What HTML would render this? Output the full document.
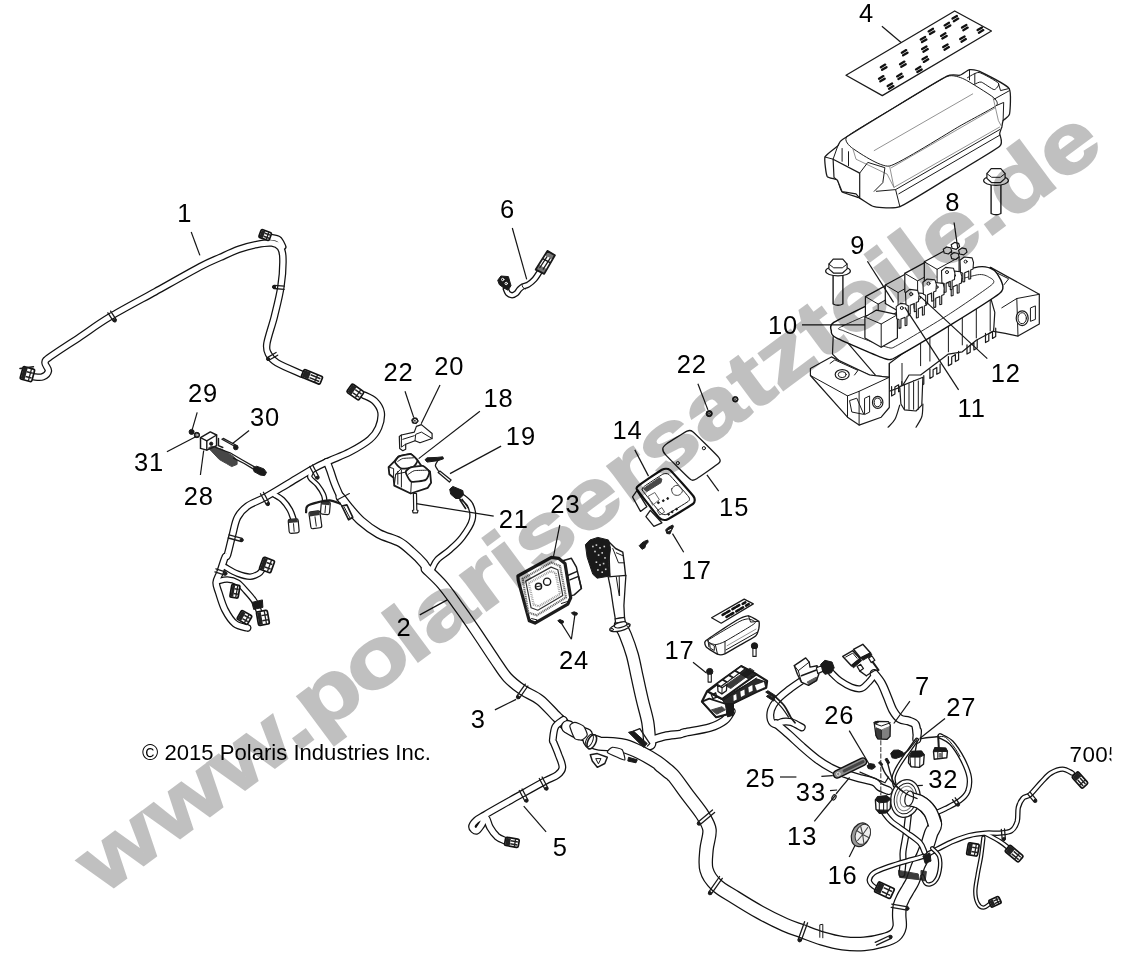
<!DOCTYPE html>
<html><head><meta charset="utf-8"><title>Polaris wiring harness diagram</title>
<style>html,body{margin:0;padding:0;background:#fff}svg{display:block}text{font-family:"Liberation Sans",Arial,sans-serif}.l{font-size:25.5px;fill:#000;letter-spacing:0.9px}.t{fill:none;stroke-linecap:round;stroke-linejoin:round}.k{stroke:#111}.w{stroke:#fff}.s{fill:#fff;stroke:#1a1a1a;stroke-width:1.2;stroke-linejoin:round;stroke-linecap:round}.n{fill:none;stroke:#1a1a1a;stroke-width:1;stroke-linejoin:round;stroke-linecap:round}.g{fill:none;stroke:#777;stroke-width:0.8;stroke-linejoin:round;stroke-linecap:round}.d{fill:#1a1a1a;stroke:#1a1a1a;stroke-width:1;stroke-linejoin:round}.ld{stroke:#151515;stroke-width:1.2;fill:none}</style></head><body>
<svg width="1121" height="953" viewBox="0 0 1121 953">
<rect width="1121" height="953" fill="#fff"/>
<g class="t">
<path class="k" d="M33.4 376.8C34.9 376.8 40.2 377.8 42.7 376.8C45.2 375.8 48.0 373.2 48.4 370.8C48.8 368.5 44.8 365.2 45.0 362.8C45.3 360.5 44.2 361.2 50.1 356.8C55.9 352.5 70.1 343.5 80.1 336.8C90.1 330.1 97.6 324.3 110.1 316.8C122.6 309.3 140.1 300.1 155.2 291.8C170.2 283.4 189.4 272.5 200.2 266.7C211.0 261.0 213.8 260.3 220.2 257.4C226.6 254.5 232.5 251.6 238.6 249.4C244.7 247.2 251.4 245.4 256.9 244.4C262.5 243.3 268.0 242.5 271.9 243.0C275.8 243.5 278.4 244.8 280.3 247.4C282.1 249.9 282.8 251.8 282.9 258.4C283.1 265.0 282.4 277.0 280.9 286.8C279.5 296.5 276.6 307.3 274.3 316.8C271.9 326.2 267.9 337.2 266.9 343.5C266.0 349.7 266.9 350.9 268.6 354.2C270.3 357.4 271.4 359.5 276.9 362.8C282.5 366.2 297.8 372.3 302.0 374.2" stroke-width="7.6"/>
<path class="k" d="M270.9 237.4C272.2 237.7 276.6 237.8 278.6 239.4C280.6 240.9 282.2 245.5 282.9 246.7" stroke-width="7.2"/>
<path class="w" d="M33.4 376.8C34.9 376.8 40.2 377.8 42.7 376.8C45.2 375.8 48.0 373.2 48.4 370.8C48.8 368.5 44.8 365.2 45.0 362.8C45.3 360.5 44.2 361.2 50.1 356.8C55.9 352.5 70.1 343.5 80.1 336.8C90.1 330.1 97.6 324.3 110.1 316.8C122.6 309.3 140.1 300.1 155.2 291.8C170.2 283.4 189.4 272.5 200.2 266.7C211.0 261.0 213.8 260.3 220.2 257.4C226.6 254.5 232.5 251.6 238.6 249.4C244.7 247.2 251.4 245.4 256.9 244.4C262.5 243.3 268.0 242.5 271.9 243.0C275.8 243.5 278.4 244.8 280.3 247.4C282.1 249.9 282.8 251.8 282.9 258.4C283.1 265.0 282.4 277.0 280.9 286.8C279.5 296.5 276.6 307.3 274.3 316.8C271.9 326.2 267.9 337.2 266.9 343.5C266.0 349.7 266.9 350.9 268.6 354.2C270.3 357.4 271.4 359.5 276.9 362.8C282.5 366.2 297.8 372.3 302.0 374.2" stroke-width="5.1"/>
<path class="w" d="M270.9 237.4C272.2 237.7 276.6 237.8 278.6 239.4C280.6 240.9 282.2 245.5 282.9 246.7" stroke-width="4.7"/>
</g>
<g class="t">
<path class="k" d="M311.9 471.1C311.6 472.2 309.0 475.1 309.9 477.4C310.8 479.7 315.1 482.0 317.4 484.9C319.7 487.8 322.4 491.9 323.6 494.9C324.9 497.9 324.7 501.5 324.9 502.9" stroke-width="5.6"/>
<path class="k" d="M274.9 494.9C276.2 495.7 279.9 497.4 282.4 499.9C284.9 502.4 288.0 506.5 289.9 509.9C291.8 513.2 293.0 518.2 293.7 519.8" stroke-width="6.6"/>
<path class="k" d="M225.0 567.0C227.1 568.1 233.3 572.1 237.5 573.7C241.6 575.3 246.4 576.7 250.0 576.7C253.5 576.7 256.6 574.9 258.7 573.7C260.8 572.5 261.8 570.2 262.4 569.5" stroke-width="6.6"/>
<path class="k" d="M218.0 581.2C219.6 580.9 224.2 579.3 227.5 579.5C230.7 579.7 234.3 580.5 237.5 582.5C240.6 584.4 243.4 588.1 246.2 591.2C249.0 594.3 252.2 597.7 254.4 601.2C256.7 604.7 258.6 610.6 259.4 612.4" stroke-width="6.6"/>
<path class="k" d="M461.0 496.1C462.5 497.6 468.4 500.9 470.2 504.9C472.1 508.8 473.6 514.4 472.2 519.8C470.9 525.3 466.0 532.3 462.2 537.3C458.5 542.3 453.9 546.1 449.8 549.8C445.6 553.6 440.2 556.7 437.3 559.8C434.3 562.9 433.1 567.1 432.3 568.5" stroke-width="7"/>
<path class="k" d="M363.6 395.0C365.5 396.0 371.9 398.3 374.8 401.2C377.7 404.1 380.4 408.1 381.1 412.4C381.7 416.8 380.4 422.9 378.6 427.4C376.7 431.9 374.6 435.3 369.8 439.4C365.0 443.5 356.5 448.4 349.9 451.9C343.2 455.4 336.1 457.8 329.9 460.6C323.6 463.5 319.5 465.2 312.4 469.1C305.3 473.1 295.3 479.4 287.4 484.1C279.5 488.8 271.6 493.7 264.9 497.4C258.3 501.0 252.0 502.8 247.5 506.1C242.9 509.4 240.0 512.6 237.5 517.3C235.0 522.1 234.1 528.6 232.5 534.8C230.8 541.1 228.7 551.0 227.5 554.8C226.2 558.6 226.2 554.5 225.0 557.5C223.7 560.4 221.4 568.3 220.0 572.5C218.5 576.6 216.4 579.1 216.2 582.5C216.0 585.8 217.3 587.9 218.7 592.4C220.2 597.0 222.3 604.7 225.0 609.9C227.7 615.1 231.2 620.7 235.0 623.7C238.7 626.7 245.4 627.2 247.5 627.9" stroke-width="7.8"/>
<path class="k" d="M326.9 461.9C327.5 463.4 329.1 467.6 330.4 471.1C331.6 474.6 332.7 478.6 334.4 482.9C336.0 487.2 339.4 494.5 340.4 496.9" stroke-width="8.2"/>
<path class="k" d="M340.4 496.9C341.7 498.6 345.1 503.3 348.6 507.4C352.1 511.4 356.1 516.7 361.1 521.1C366.1 525.5 372.3 530.2 378.6 533.6C384.8 537.0 393.1 538.7 398.6 541.6C404.0 544.5 406.9 547.4 411.0 551.1C415.2 554.7 421.0 560.6 423.5 563.5C426.1 566.5 425.8 567.9 426.2 568.7" stroke-width="9.8"/>
<path class="k" d="M426.2 568.7C428.9 571.4 437.3 578.9 442.5 585.0C447.7 591.0 452.0 597.5 457.4 605.0C462.9 612.4 468.7 620.8 474.9 629.9C481.2 639.1 489.5 652.0 494.9 659.9C500.3 667.8 502.8 672.4 507.4 677.4C512.0 682.4 517.0 686.1 522.4 689.9C527.8 693.6 534.0 695.3 539.9 699.9C545.7 704.4 552.3 712.6 557.3 717.3C562.3 722.1 567.7 726.7 569.8 728.6" stroke-width="11.4"/>
<path class="w" d="M311.9 471.1C311.6 472.2 309.0 475.1 309.9 477.4C310.8 479.7 315.1 482.0 317.4 484.9C319.7 487.8 322.4 491.9 323.6 494.9C324.9 497.9 324.7 501.5 324.9 502.9" stroke-width="3.1"/>
<path class="w" d="M274.9 494.9C276.2 495.7 279.9 497.4 282.4 499.9C284.9 502.4 288.0 506.5 289.9 509.9C291.8 513.2 293.0 518.2 293.7 519.8" stroke-width="4.1"/>
<path class="w" d="M225.0 567.0C227.1 568.1 233.3 572.1 237.5 573.7C241.6 575.3 246.4 576.7 250.0 576.7C253.5 576.7 256.6 574.9 258.7 573.7C260.8 572.5 261.8 570.2 262.4 569.5" stroke-width="4.1"/>
<path class="w" d="M218.0 581.2C219.6 580.9 224.2 579.3 227.5 579.5C230.7 579.7 234.3 580.5 237.5 582.5C240.6 584.4 243.4 588.1 246.2 591.2C249.0 594.3 252.2 597.7 254.4 601.2C256.7 604.7 258.6 610.6 259.4 612.4" stroke-width="4.1"/>
<path class="w" d="M461.0 496.1C462.5 497.6 468.4 500.9 470.2 504.9C472.1 508.8 473.6 514.4 472.2 519.8C470.9 525.3 466.0 532.3 462.2 537.3C458.5 542.3 453.9 546.1 449.8 549.8C445.6 553.6 440.2 556.7 437.3 559.8C434.3 562.9 433.1 567.1 432.3 568.5" stroke-width="4.5"/>
<path class="w" d="M363.6 395.0C365.5 396.0 371.9 398.3 374.8 401.2C377.7 404.1 380.4 408.1 381.1 412.4C381.7 416.8 380.4 422.9 378.6 427.4C376.7 431.9 374.6 435.3 369.8 439.4C365.0 443.5 356.5 448.4 349.9 451.9C343.2 455.4 336.1 457.8 329.9 460.6C323.6 463.5 319.5 465.2 312.4 469.1C305.3 473.1 295.3 479.4 287.4 484.1C279.5 488.8 271.6 493.7 264.9 497.4C258.3 501.0 252.0 502.8 247.5 506.1C242.9 509.4 240.0 512.6 237.5 517.3C235.0 522.1 234.1 528.6 232.5 534.8C230.8 541.1 228.7 551.0 227.5 554.8C226.2 558.6 226.2 554.5 225.0 557.5C223.7 560.4 221.4 568.3 220.0 572.5C218.5 576.6 216.4 579.1 216.2 582.5C216.0 585.8 217.3 587.9 218.7 592.4C220.2 597.0 222.3 604.7 225.0 609.9C227.7 615.1 231.2 620.7 235.0 623.7C238.7 626.7 245.4 627.2 247.5 627.9" stroke-width="5.3"/>
<path class="w" d="M326.9 461.9C327.5 463.4 329.1 467.6 330.4 471.1C331.6 474.6 332.7 478.6 334.4 482.9C336.0 487.2 339.4 494.5 340.4 496.9" stroke-width="5.7"/>
<path class="w" d="M340.4 496.9C341.7 498.6 345.1 503.3 348.6 507.4C352.1 511.4 356.1 516.7 361.1 521.1C366.1 525.5 372.3 530.2 378.6 533.6C384.8 537.0 393.1 538.7 398.6 541.6C404.0 544.5 406.9 547.4 411.0 551.1C415.2 554.7 421.0 560.6 423.5 563.5C426.1 566.5 425.8 567.9 426.2 568.7" stroke-width="7.3"/>
<path class="w" d="M426.2 568.7C428.9 571.4 437.3 578.9 442.5 585.0C447.7 591.0 452.0 597.5 457.4 605.0C462.9 612.4 468.7 620.8 474.9 629.9C481.2 639.1 489.5 652.0 494.9 659.9C500.3 667.8 502.8 672.4 507.4 677.4C512.0 682.4 517.0 686.1 522.4 689.9C527.8 693.6 534.0 695.3 539.9 699.9C545.7 704.4 552.3 712.6 557.3 717.3C562.3 722.1 567.7 726.7 569.8 728.6" stroke-width="8.9"/>
</g>
<g class="t">
<path class="k" d="M563.6 719.8C562.2 721.0 557.1 723.5 555.3 726.8C553.6 730.2 553.1 737.2 552.8 739.8C552.6 742.4 552.7 739.9 553.6 742.5C554.6 745.0 557.2 750.8 558.6 755.0C560.1 759.1 562.6 764.1 562.4 767.4C562.2 770.8 560.3 772.7 557.4 774.9C554.5 777.2 550.7 778.1 544.9 781.2C539.1 784.3 529.5 789.7 522.4 793.7C515.3 797.6 508.7 801.4 502.4 804.9C496.2 808.4 489.3 812.3 485.0 814.9C480.6 817.5 478.4 818.4 476.2 820.4C474.0 822.4 471.9 825.1 472.0 826.9C472.0 828.6 474.9 831.2 476.5 830.9C478.0 830.6 479.9 827.1 481.5 824.9C483.0 822.7 484.5 817.5 486.0 817.9C487.4 818.3 488.1 824.3 490.0 827.4C491.8 830.5 494.4 834.1 496.9 836.4C499.5 838.6 504.0 840.1 505.4 840.9" stroke-width="7.8"/>
<path class="w" d="M563.6 719.8C562.2 721.0 557.1 723.5 555.3 726.8C553.6 730.2 553.1 737.2 552.8 739.8C552.6 742.4 552.7 739.9 553.6 742.5C554.6 745.0 557.2 750.8 558.6 755.0C560.1 759.1 562.6 764.1 562.4 767.4C562.2 770.8 560.3 772.7 557.4 774.9C554.5 777.2 550.7 778.1 544.9 781.2C539.1 784.3 529.5 789.7 522.4 793.7C515.3 797.6 508.7 801.4 502.4 804.9C496.2 808.4 489.3 812.3 485.0 814.9C480.6 817.5 478.4 818.4 476.2 820.4C474.0 822.4 471.9 825.1 472.0 826.9C472.0 828.6 474.9 831.2 476.5 830.9C478.0 830.6 479.9 827.1 481.5 824.9C483.0 822.7 484.5 817.5 486.0 817.9C487.4 818.3 488.1 824.3 490.0 827.4C491.8 830.5 494.4 834.1 496.9 836.4C499.5 838.6 504.0 840.1 505.4 840.9" stroke-width="5.3"/>
</g>
<g class="t">
<path class="k" d="M649.8 743.6C649.4 740.0 649.0 729.6 647.8 722.3C646.5 715.1 644.0 707.4 642.3 699.9C640.5 692.4 638.9 684.9 637.3 677.4C635.6 669.9 634.3 662.0 632.3 654.9C630.3 647.8 627.3 639.8 625.3 634.9C623.3 630.0 621.1 627.0 620.3 625.4" stroke-width="13.3"/>
<path class="k" d="M651.0 740.3C653.3 739.6 659.9 737.1 664.7 736.1C669.6 735.0 676.6 734.7 680.0 734.1C683.3 733.5 680.0 733.6 685.0 732.5C690.0 731.4 703.4 729.5 710.0 727.5C716.5 725.5 720.9 723.2 724.4 720.5C728.0 717.8 730.1 712.8 731.2 711.3" stroke-width="9"/>
<path class="w" d="M649.8 743.6C649.4 740.0 649.0 729.6 647.8 722.3C646.5 715.1 644.0 707.4 642.3 699.9C640.5 692.4 638.9 684.9 637.3 677.4C635.6 669.9 634.3 662.0 632.3 654.9C630.3 647.8 627.3 639.8 625.3 634.9C623.3 630.0 621.1 627.0 620.3 625.4" stroke-width="10.8"/>
<path class="w" d="M651.0 740.3C653.3 739.6 659.9 737.1 664.7 736.1C669.6 735.0 676.6 734.7 680.0 734.1C683.3 733.5 680.0 733.6 685.0 732.5C690.0 731.4 703.4 729.5 710.0 727.5C716.5 725.5 720.9 723.2 724.4 720.5C728.0 717.8 730.1 712.8 731.2 711.3" stroke-width="6.5"/>
</g>
<g class="t">
<path class="k" d="M567.8 726.8C569.0 727.5 571.8 729.5 574.8 730.8C577.9 732.2 584.2 734.2 586.1 734.8" stroke-width="13.8"/>
<path class="k" d="M589.8 740.3C591.5 740.9 596.1 742.9 599.8 743.6C603.5 744.2 608.1 743.9 612.3 744.3C616.5 744.7 620.2 744.7 624.8 746.1C629.4 747.4 634.3 749.6 639.8 752.3C645.2 755.0 651.8 758.6 657.2 762.3C662.7 766.0 671.8 774.3 672.2 774.8C672.7 775.2 660.0 764.9 660.0 765.0C660.0 765.0 667.9 769.9 672.5 774.9C677.1 779.9 682.5 788.3 687.5 794.9C692.5 801.6 698.8 809.1 702.5 814.9C706.1 820.7 708.8 824.1 709.5 829.9C710.1 835.7 707.0 843.2 706.5 849.9C706.0 856.5 704.8 864.0 706.5 869.8C708.1 875.7 711.4 880.3 716.2 884.8C720.9 889.4 727.6 892.7 734.9 897.3C742.2 901.9 751.6 907.7 759.9 912.3C768.2 916.9 777.8 921.6 784.9 924.8C792.0 928.0 796.1 929.0 802.4 931.3C808.6 933.6 815.6 936.5 822.3 938.5C829.1 940.5 835.8 942.3 842.8 943.2C849.8 944.1 857.5 944.4 864.2 943.9C871.0 943.4 878.4 941.8 883.5 940.3C888.6 938.9 892.2 937.6 894.9 935.3C897.6 933.1 898.9 930.4 899.6 927.1C900.3 923.8 899.2 919.2 899.2 915.6C899.2 912.1 899.2 908.8 899.9 905.7C900.6 902.6 902.1 899.9 903.5 897.1C904.9 894.2 906.9 891.3 908.5 888.5C910.0 885.8 911.1 884.5 912.8 880.7C914.4 876.9 916.5 869.8 918.2 865.7C919.9 861.7 921.3 859.9 922.9 856.4C924.4 852.9 926.1 848.7 927.5 844.8C928.9 840.9 930.0 836.6 931.2 833.1C932.5 829.7 935.2 827.8 934.9 824.2C934.7 820.5 932.4 815.0 929.9 811.3C927.4 807.6 923.6 804.1 919.9 802.1C916.3 800.0 909.8 799.3 907.8 798.8" stroke-width="14.6"/>
<path class="w" d="M567.8 726.8C569.0 727.5 571.8 729.5 574.8 730.8C577.9 732.2 584.2 734.2 586.1 734.8" stroke-width="11.3"/>
<path class="w" d="M589.8 740.3C591.5 740.9 596.1 742.9 599.8 743.6C603.5 744.2 608.1 743.9 612.3 744.3C616.5 744.7 620.2 744.7 624.8 746.1C629.4 747.4 634.3 749.6 639.8 752.3C645.2 755.0 651.8 758.6 657.2 762.3C662.7 766.0 671.8 774.3 672.2 774.8C672.7 775.2 660.0 764.9 660.0 765.0C660.0 765.0 667.9 769.9 672.5 774.9C677.1 779.9 682.5 788.3 687.5 794.9C692.5 801.6 698.8 809.1 702.5 814.9C706.1 820.7 708.8 824.1 709.5 829.9C710.1 835.7 707.0 843.2 706.5 849.9C706.0 856.5 704.8 864.0 706.5 869.8C708.1 875.7 711.4 880.3 716.2 884.8C720.9 889.4 727.6 892.7 734.9 897.3C742.2 901.9 751.6 907.7 759.9 912.3C768.2 916.9 777.8 921.6 784.9 924.8C792.0 928.0 796.1 929.0 802.4 931.3C808.6 933.6 815.6 936.5 822.3 938.5C829.1 940.5 835.8 942.3 842.8 943.2C849.8 944.1 857.5 944.4 864.2 943.9C871.0 943.4 878.4 941.8 883.5 940.3C888.6 938.9 892.2 937.6 894.9 935.3C897.6 933.1 898.9 930.4 899.6 927.1C900.3 923.8 899.2 919.2 899.2 915.6C899.2 912.1 899.2 908.8 899.9 905.7C900.6 902.6 902.1 899.9 903.5 897.1C904.9 894.2 906.9 891.3 908.5 888.5C910.0 885.8 911.1 884.5 912.8 880.7C914.4 876.9 916.5 869.8 918.2 865.7C919.9 861.7 921.3 859.9 922.9 856.4C924.4 852.9 926.1 848.7 927.5 844.8C928.9 840.9 930.0 836.6 931.2 833.1C932.5 829.7 935.2 827.8 934.9 824.2C934.7 820.5 932.4 815.0 929.9 811.3C927.4 807.6 923.6 804.1 919.9 802.1C916.3 800.0 909.8 799.3 907.8 798.8" stroke-width="12.1"/>
</g>
<g class="t">
<path class="k" d="M908.5 814.2C908.1 817.3 907.2 826.6 906.3 832.8C905.4 839.0 903.6 846.6 903.1 851.3C902.5 856.0 903.3 857.3 903.1 861.1C902.9 864.8 902.1 871.7 901.9 873.9" stroke-width="7"/>
<path class="w" d="M908.5 814.2C908.1 817.3 907.2 826.6 906.3 832.8C905.4 839.0 903.6 846.6 903.1 851.3C902.5 856.0 903.3 857.3 903.1 861.1C902.9 864.8 902.1 871.7 901.9 873.9" stroke-width="4.5"/>
</g>
<g class="t">
<path class="k" d="M802.8 680.0C800.4 681.6 792.8 686.6 788.5 690.0C784.3 693.3 780.0 696.6 777.1 700.0C774.2 703.3 772.2 706.6 771.1 709.9C770.1 713.3 770.1 717.5 770.8 719.9C771.6 722.4 773.7 724.2 775.7 724.5C777.7 724.8 780.2 722.0 782.8 721.7C785.5 721.3 788.3 721.3 791.4 722.2C794.5 723.2 800.0 726.5 801.7 727.4" stroke-width="8"/>
<path class="k" d="M776.0 723.5C778.1 725.3 784.1 730.2 788.5 734.2C793.0 738.2 798.1 743.2 802.8 747.3C807.6 751.5 812.3 755.7 817.1 759.2C821.9 762.7 826.6 765.7 831.4 768.2C836.1 770.6 840.9 772.2 845.6 773.9C850.4 775.6 855.2 776.8 859.9 778.2C864.7 779.5 870.9 780.5 874.2 782.0C877.5 783.5 877.5 785.7 879.9 787.1C882.3 788.5 887.1 790.1 888.5 790.7" stroke-width="8.8"/>
<path class="k" d="M831.4 672.8C832.8 674.1 836.6 678.3 839.9 680.7C843.3 683.1 847.8 685.8 851.4 687.1C854.9 688.4 858.5 689.3 861.3 688.5C864.2 687.8 866.5 684.4 868.5 682.5C870.4 680.6 872.3 678.0 873.0 677.1" stroke-width="7.2"/>
<path class="k" d="M874.2 673.6C875.4 675.1 879.2 679.4 881.3 683.1C883.5 686.8 885.1 691.5 887.0 696.0C888.9 700.4 890.6 706.1 892.7 709.9C894.9 713.8 897.3 717.0 899.9 718.8C902.5 720.6 905.9 720.0 908.4 720.9C911.0 721.9 913.9 722.3 915.3 724.5C916.7 726.7 916.7 733.2 917.0 734.2C917.4 735.2 917.4 729.8 917.4 730.7C917.3 731.5 916.9 737.8 916.8 739.3" stroke-width="9.2"/>
<path class="w" d="M802.8 680.0C800.4 681.6 792.8 686.6 788.5 690.0C784.3 693.3 780.0 696.6 777.1 700.0C774.2 703.3 772.2 706.6 771.1 709.9C770.1 713.3 770.1 717.5 770.8 719.9C771.6 722.4 773.7 724.2 775.7 724.5C777.7 724.8 780.2 722.0 782.8 721.7C785.5 721.3 788.3 721.3 791.4 722.2C794.5 723.2 800.0 726.5 801.7 727.4" stroke-width="5.5"/>
<path class="w" d="M776.0 723.5C778.1 725.3 784.1 730.2 788.5 734.2C793.0 738.2 798.1 743.2 802.8 747.3C807.6 751.5 812.3 755.7 817.1 759.2C821.9 762.7 826.6 765.7 831.4 768.2C836.1 770.6 840.9 772.2 845.6 773.9C850.4 775.6 855.2 776.8 859.9 778.2C864.7 779.5 870.9 780.5 874.2 782.0C877.5 783.5 877.5 785.7 879.9 787.1C882.3 788.5 887.1 790.1 888.5 790.7" stroke-width="6.3"/>
<path class="w" d="M831.4 672.8C832.8 674.1 836.6 678.3 839.9 680.7C843.3 683.1 847.8 685.8 851.4 687.1C854.9 688.4 858.5 689.3 861.3 688.5C864.2 687.8 866.5 684.4 868.5 682.5C870.4 680.6 872.3 678.0 873.0 677.1" stroke-width="4.7"/>
<path class="w" d="M874.2 673.6C875.4 675.1 879.2 679.4 881.3 683.1C883.5 686.8 885.1 691.5 887.0 696.0C888.9 700.4 890.6 706.1 892.7 709.9C894.9 713.8 897.3 717.0 899.9 718.8C902.5 720.6 905.9 720.0 908.4 720.9C911.0 721.9 913.9 722.3 915.3 724.5C916.7 726.7 916.7 733.2 917.0 734.2C917.4 735.2 917.4 729.8 917.4 730.7C917.3 731.5 916.9 737.8 916.8 739.3" stroke-width="6.7"/>
</g>
<g class="t">
<path class="k" d="M916.8 739.7C915.4 741.6 911.5 747.1 908.5 751.4C905.5 755.7 901.3 761.4 898.8 765.7C896.3 769.9 894.4 773.7 893.7 777.1C893.0 780.4 894.6 784.2 894.8 785.6" stroke-width="4.3"/>
<path class="k" d="M940.2 736.0C942.1 737.1 947.6 738.8 951.4 742.8C955.1 746.8 959.8 754.2 962.8 759.9C965.7 765.7 968.4 771.8 969.2 777.1C970.0 782.3 969.3 787.4 967.8 791.4C966.2 795.3 963.6 797.8 959.9 800.6C956.2 803.5 949.7 806.4 945.6 808.5C941.6 810.5 937.3 812.3 935.6 813.0" stroke-width="5.6"/>
<path class="w" d="M916.8 739.7C915.4 741.6 911.5 747.1 908.5 751.4C905.5 755.7 901.3 761.4 898.8 765.7C896.3 769.9 894.4 773.7 893.7 777.1C893.0 780.4 894.6 784.2 894.8 785.6" stroke-width="1.8"/>
<path class="w" d="M940.2 736.0C942.1 737.1 947.6 738.8 951.4 742.8C955.1 746.8 959.8 754.2 962.8 759.9C965.7 765.7 968.4 771.8 969.2 777.1C970.0 782.3 969.3 787.4 967.8 791.4C966.2 795.3 963.6 797.8 959.9 800.6C956.2 803.5 949.7 806.4 945.6 808.5C941.6 810.5 937.3 812.3 935.6 813.0" stroke-width="3.1"/>
</g>
<g class="t">
<path class="k" d="M983.4 837.8C983.0 840.9 982.0 850.2 981.1 856.4C980.1 862.6 978.5 869.2 977.6 875.0C976.6 880.9 975.3 886.7 975.3 891.3C975.3 896.0 976.2 900.3 977.6 903.0C978.9 905.7 981.3 907.6 983.4 907.6C985.5 907.7 989.2 904.1 990.4 903.4" stroke-width="4.4"/>
<path class="k" d="M985.7 833.6C988.1 834.9 995.8 838.8 999.7 841.3C1003.6 843.7 1007.5 847.1 1009.0 848.3" stroke-width="5"/>
<path class="k" d="M877.5 889.0C876.5 888.3 873.0 886.4 871.6 884.8C870.3 883.3 868.9 881.7 869.3 879.7C869.7 877.7 870.9 874.8 874.0 872.7C877.1 870.6 882.5 868.8 887.9 866.9C893.4 865.0 900.7 862.8 906.6 861.1C912.4 859.3 917.8 858.4 922.9 856.4C927.9 854.5 931.8 852.0 936.8 849.4C941.9 846.9 947.7 843.6 953.1 841.3C958.6 839.0 964.0 836.8 969.4 835.5C974.9 834.1 980.7 833.5 985.7 833.1C990.8 832.7 995.4 833.5 999.7 833.1C1004.0 832.7 1008.4 832.7 1011.3 830.8C1014.2 828.9 1016.0 825.4 1017.2 821.5C1018.3 817.6 1017.4 811.4 1018.3 807.5C1019.3 803.6 1021.0 800.3 1023.0 798.2C1024.9 796.1 1026.9 797.4 1030.0 794.7C1033.1 792.0 1038.1 785.5 1041.6 781.9C1045.1 778.3 1047.4 775.2 1050.9 773.1C1054.4 770.9 1059.0 769.1 1062.6 769.1C1066.1 769.1 1070.7 772.4 1072.3 773.1" stroke-width="5.4"/>
<path class="w" d="M983.4 837.8C983.0 840.9 982.0 850.2 981.1 856.4C980.1 862.6 978.5 869.2 977.6 875.0C976.6 880.9 975.3 886.7 975.3 891.3C975.3 896.0 976.2 900.3 977.6 903.0C978.9 905.7 981.3 907.6 983.4 907.6C985.5 907.7 989.2 904.1 990.4 903.4" stroke-width="1.9"/>
<path class="w" d="M985.7 833.6C988.1 834.9 995.8 838.8 999.7 841.3C1003.6 843.7 1007.5 847.1 1009.0 848.3" stroke-width="2.5"/>
<path class="w" d="M877.5 889.0C876.5 888.3 873.0 886.4 871.6 884.8C870.3 883.3 868.9 881.7 869.3 879.7C869.7 877.7 870.9 874.8 874.0 872.7C877.1 870.6 882.5 868.8 887.9 866.9C893.4 865.0 900.7 862.8 906.6 861.1C912.4 859.3 917.8 858.4 922.9 856.4C927.9 854.5 931.8 852.0 936.8 849.4C941.9 846.9 947.7 843.6 953.1 841.3C958.6 839.0 964.0 836.8 969.4 835.5C974.9 834.1 980.7 833.5 985.7 833.1C990.8 832.7 995.4 833.5 999.7 833.1C1004.0 832.7 1008.4 832.7 1011.3 830.8C1014.2 828.9 1016.0 825.4 1017.2 821.5C1018.3 817.6 1017.4 811.4 1018.3 807.5C1019.3 803.6 1021.0 800.3 1023.0 798.2C1024.9 796.1 1026.9 797.4 1030.0 794.7C1033.1 792.0 1038.1 785.5 1041.6 781.9C1045.1 778.3 1047.4 775.2 1050.9 773.1C1054.4 770.9 1059.0 769.1 1062.6 769.1C1066.1 769.1 1070.7 772.4 1072.3 773.1" stroke-width="2.9"/>
</g>
<g class="t">
<path class="k" d="M883.5 812.1C884.8 813.6 887.4 817.9 891.4 821.4C895.3 824.8 902.3 829.2 907.1 832.8C911.8 836.3 917.0 839.6 919.9 842.8C922.8 846.0 923.7 850.5 924.5 852.0" stroke-width="6"/>
<path class="w" d="M883.5 812.1C884.8 813.6 887.4 817.9 891.4 821.4C895.3 824.8 902.3 829.2 907.1 832.8C911.8 836.3 917.0 839.6 919.9 842.8C922.8 846.0 923.7 850.5 924.5 852.0" stroke-width="3.5"/>
</g>
<g class="t">
<path class="k" d="M932.2 848.3C933.3 849.6 937.9 852.7 939.2 856.4C940.4 860.1 940.4 866.1 939.6 870.4C938.9 874.7 936.7 879.8 934.5 882.0C932.3 884.3 928.4 884.9 926.4 883.9C924.3 882.9 923.1 877.5 922.4 876.2" stroke-width="4.5"/>
<path class="w" d="M932.2 848.3C933.3 849.6 937.9 852.7 939.2 856.4C940.4 860.1 940.4 866.1 939.6 870.4C938.9 874.7 936.7 879.8 934.5 882.0C932.3 884.3 928.4 884.9 926.4 883.9C924.3 882.9 923.1 877.5 922.4 876.2" stroke-width="2"/>
</g>
<path class="s" d="M846.0 75.2L954.7 11.0L991.5 31.0L882.3 95.6Z" style="stroke-width:1.3"/>
<path class="n" d="M879.0 78.7l4.4 -2.6M880.3 81.3l4.4 -2.6M880.8 67.2l4.4 -2.6M882.1 69.8l4.4 -2.6M897.1 76.4l4.4 -2.6M898.4 79.0l4.4 -2.6M900.0 64.2l4.4 -2.6M901.3 66.8l4.4 -2.6M901.8 52.7l4.4 -2.6M903.1 55.3l4.4 -2.6M922.5 59.3l4.4 -2.6M923.8 61.9l4.4 -2.6M922.1 49.1l4.4 -2.6M923.4 51.7l4.4 -2.6M920.7 39.5l4.4 -2.6M922.0 42.1l4.4 -2.6M943.2 47.1l4.4 -2.6M944.5 49.7l4.4 -2.6M941.0 35.9l4.4 -2.6M942.3 38.5l4.4 -2.6M960.2 39.1l4.4 -2.6M961.5 41.7l4.4 -2.6M944.6 25.4l4.4 -2.6M945.9 28.0l4.4 -2.6M962.0 27.6l4.4 -2.6M963.3 30.2l4.4 -2.6M977.6 30.1l4.4 -2.6M978.9 32.7l4.4 -2.6M887.7 86.1l4.4 -2.6M889.0 88.7l4.4 -2.6M916.0 69.4l4.4 -2.6M917.3 72.0l4.4 -2.6M928.6 31.4l4.4 -2.6M929.9 34.0l4.4 -2.6M952.5 18.6l4.4 -2.6M953.8 21.2l4.4 -2.6" style="stroke-width:2.3;stroke:#111"/>
<path class="s" d="M825.0 157.0C825.9 154.5 836.4 147.3 837.8 145.9C839.3 144.4 837.7 142.7 842.5 139.5C847.4 136.2 886.9 112.0 895.6 106.7C904.3 101.4 941.7 78.7 947.0 76.1C952.4 73.5 958.0 75.8 959.9 75.2C961.7 74.7 967.9 70.0 969.5 69.7C971.1 69.3 976.3 69.8 979.6 71.4C982.9 73.0 1006.6 84.9 1009.1 88.5C1011.6 92.1 1010.0 111.5 1009.5 114.2C1009.0 116.9 1003.7 119.6 1003.1 120.6C1002.5 121.7 1002.1 126.0 1001.8 127.0C1001.5 128.1 999.9 131.9 999.7 133.5C999.5 135.1 1003.9 142.7 999.7 146.3C995.5 150.0 957.5 172.3 949.2 177.4C940.8 182.4 906.2 204.2 899.9 206.7C893.7 209.1 877.6 207.4 874.2 206.7C870.9 206.0 862.3 199.4 859.7 198.1C857.0 196.9 844.0 193.2 842.1 191.7C840.3 190.2 838.7 181.4 837.4 180.1C836.2 178.9 828.2 178.2 827.1 176.3C826.1 174.4 824.1 159.5 825.0 157.0Z" style="stroke-width:1.3"/>
<path class="n" d="M846.8 136.7C850.4 133.2 887.3 111.7 895.6 106.7C904.0 101.7 941.3 78.8 947.0 76.5C952.7 74.2 960.3 77.4 964.1 79.1C968.0 80.8 990.4 94.9 993.0 97.1C995.7 99.3 999.0 103.2 996.3 105.6C993.5 108.0 968.7 120.9 959.9 126.0C951.0 131.0 898.6 164.1 889.6 166.0C880.7 167.9 856.4 150.9 852.8 148.5C849.2 146.0 843.3 140.2 846.8 136.7Z"/>
<path class="g" d="M889.6 166.0L893.9 187.4L999.7 127.0"/>
<path class="g" d="M993.0 97.1L998.4 120.6L1001.8 127.0"/>
<path class="g" d="M852.8 148.5L856.0 159.2L887.1 174.1L893.9 187.4"/>
<path class="g" d="M874.2 150.6L972.7 93.9"/>
<path class="g" d="M891.4 167.7L995.2 107.8"/>
<path class="n" d="M895.6 189.6L999.7 129.6"/>
<path class="n" d="M898.8 193.8L999.7 135.2"/>
<path class="n" d="M876.4 191.3L895.6 189.6L899.9 206.7"/>
<path class="s" d="M833.1 159.2L859.7 173.1L859.7 198.1L856.0 193.8L842.1 191.7L837.4 180.1L834.0 177.4Z"/>
<path class="n" d="M825.0 157.0L833.1 159.2L837.8 145.9"/>
<path class="n" d="M859.7 173.1L867.8 162.4L884.9 167.7L882.8 182.7L874.2 191.3"/>
<path class="n" d="M842.1 148.5L842.1 161.3"/>
<path class="n" d="M848.5 151.7L848.5 165.6"/>
<path class="n" d="M967.4 77.8C968.5 77.3 976.0 71.9 979.1 72.5C982.2 73.0 996.9 81.4 998.4 83.2C999.9 84.9 995.8 89.7 994.1 89.6C992.4 89.5 983.2 82.6 981.3 82.1C979.3 81.5 975.5 84.0 974.8 84.2"/>
<path class="n" d="M969.5 69.7L969.5 79.9"/>
<path class="n" d="M974.8 73.5L974.8 84.2"/>
<path class="n" d="M994.1 99.2L1009.5 90.6"/>
<path class="n" d="M998.4 83.2L1000.5 90.6L1009.1 88.5"/>
<path class="n" d="M996.3 105.6L1003.7 102.4L1003.1 120.6"/>
<path class="s" d="M991.1 182.2L991.1 213.5Q996.0 216.0 1000.9 213.5L1000.9 182.2Z" style="stroke-width:1.4"/>
<ellipse class="s" cx="996.0" cy="180.6" rx="12.4" ry="4.8"/>
<path class="s" d="M986.9 173.6L991.2 168.7L1000.8 168.7L1005.1 173.6L1005.1 178.4L1000.3 182.7L991.7 182.7L986.9 178.4Z"/>
<path class="n" d="M986.9 173.6L991.7 177.3L1000.3 177.3L1005.1 173.6"/>
<path class="s" d="M833.1 272.7L833.1 304.0Q838.0 306.5 842.9 304.0L842.9 272.7Z" style="stroke-width:1.4"/>
<ellipse class="s" cx="838.0" cy="271.1" rx="12.4" ry="4.8"/>
<path class="s" d="M828.9 264.1L833.2 259.2L842.8 259.2L847.1 264.1L847.1 268.9L842.3 273.2L833.7 273.2L828.9 268.9Z"/>
<path class="n" d="M828.9 264.1L833.7 267.8L842.3 267.8L847.1 264.1"/>
<path class="s" d="M833.6 326.3L832.5 354.1L841.7 363.4L869.6 375.0L889.3 377.3L889.3 363.4L902.0 354.1L999.4 292.7L999.4 312.4L993.6 331.0L976.3 340.2L962.3 351.8L948.4 354.1L929.9 368.1L920.6 375.0L909.0 375.0L902.0 386.6L889.3 391.3Z"/>
<path class="n" d="M889.3 363.4L889.3 388.9"/>
<path class="n" d="M902.0 363.4L902.0 388.9"/>
<path class="n" d="M920.6 342.6L920.6 365.7"/>
<path class="n" d="M929.9 336.9L929.9 361.1"/>
<path class="n" d="M948.4 325.4L948.4 351.8"/>
<path class="n" d="M962.3 316.8L962.3 344.9"/>
<path class="n" d="M976.3 308.1L976.3 337.9"/>
<path class="n" d="M990.2 299.5L990.2 331.0"/>
<path class="s" d="M810.4 368.5L831.3 356.9L869.6 375.0L889.3 377.3L889.3 407.5L881.2 417.2L859.1 425.1L847.5 417.2L810.4 375.5Z"/>
<path class="n" d="M810.4 375.5L847.5 395.9L859.1 391.3L889.3 377.3"/>
<path class="n" d="M847.5 395.9L847.5 417.2"/>
<path class="n" d="M859.1 391.3L859.1 425.1"/>
<path class="n" d="M849.9 400.5L856.8 398.2L863.8 414.4L852.2 412.1Z"/>
<path class="n" d="M864.9 398.2L869.6 395.9L869.6 412.1L864.9 414.4Z"/>
<ellipse class="s" cx="877.7" cy="402.4" rx="5.2" ry="6"/>
<ellipse class="n" cx="877.7" cy="402.4" rx="3.5" ry="4.3"/>
<ellipse class="s" cx="842.2" cy="374.6" rx="7" ry="5"/>
<ellipse class="n" cx="842.2" cy="374.6" rx="4" ry="3"/>
<path class="n" d="M830.1 363.4L834.8 359.9L858.0 370.4L854.5 375.0"/>
<path class="s" d="M983.2 271.8L990.6 267.4L1039.3 294.3L1039.3 324.0L1018.0 336.1L1005.2 333.3L993.6 331.4L994.8 312.4Z"/>
<path class="n" d="M1001.8 307.8L1016.8 298.5L1039.3 294.3"/>
<path class="n" d="M1016.8 298.5L1018.0 336.1"/>
<ellipse class="s" cx="1022.2" cy="318.2" rx="6" ry="7.4"/>
<ellipse class="n" cx="1022.2" cy="318.2" rx="4.2" ry="5.5"/>
<path class="n" d="M1030.8 307.8L1035.4 305.9L1035.4 319.4L1030.8 321.2Z"/>
<path class="n" d="M990.6 267.4L997.1 273.0L1008.7 278.8L1004.1 284.6"/>
<path class="n" d="M891.6 386.6L891.6 395.9L894.9 394.0L894.9 387.1L898.6 384.8L898.6 391.7L901.8 389.9L901.8 381.5" style="stroke-width:1.2"/>
<path class="n" d="M913.6 380.8L913.6 390.1L916.9 388.2L916.9 381.3L920.6 379.0L920.6 385.9L923.8 384.1L923.8 375.7" style="stroke-width:1.2"/>
<path class="n" d="M929.9 369.2L929.9 378.5L933.1 376.6L933.1 369.7L936.8 367.4L936.8 374.3L940.1 372.5L940.1 364.1" style="stroke-width:1.2"/>
<path class="n" d="M948.4 356.5L948.4 365.7L951.7 363.9L951.7 356.9L955.4 354.6L955.4 361.6L958.6 359.7L958.6 351.4" style="stroke-width:1.2"/>
<path class="n" d="M967.0 344.9L967.0 354.1L970.2 352.3L970.2 345.3L973.9 343.0L973.9 350.0L977.2 348.1L977.2 339.8" style="stroke-width:1.2"/>
<path class="n" d="M985.5 333.3L985.5 342.6L988.8 340.7L988.8 333.7L992.5 331.4L992.5 338.4L995.7 336.5L995.7 328.2" style="stroke-width:1.2"/>
<path class="s" d="M899.7 386.6L922.9 377.3L921.8 405.2L916.0 411.0L904.4 409.8L900.9 404.0Z"/>
<path class="n" d="M904.4 385.2L904.4 409.3"/>
<path class="n" d="M909.0 383.8L909.0 409.3"/>
<path class="n" d="M913.6 382.4L913.6 409.3"/>
<path class="n" d="M918.3 381.0L918.3 409.3"/>
<path class="n" d="M899.7 405.2C898.9 407.5 897.0 415.4 895.1 419.1C893.2 422.8 889.3 425.8 888.1 427.2" style="stroke-width:1.2"/>
<path class="n" d="M922.9 404.0C922.7 406.1 922.9 412.9 921.8 416.8C920.6 420.6 916.9 425.5 916.0 427.2" style="stroke-width:1.2"/>
<path d="M834.8 324.0C838.4 321.6 860.1 310.8 869.6 306.6C879.1 302.4 919.0 286.0 929.9 282.3C940.8 278.5 972.3 269.8 978.6 268.8C984.9 267.8 990.8 270.4 992.9 271.8C995.1 273.2 999.4 280.7 999.9 282.7C1000.4 284.7 1003.4 287.9 998.3 292.0C993.1 296.1 958.5 317.8 948.4 324.0C938.3 330.2 903.7 350.9 897.4 354.1C891.1 357.4 891.8 358.7 885.8 356.9C879.8 355.1 842.4 338.7 837.1 336.1C831.8 333.4 833.4 331.7 833.2 330.5C832.9 329.3 831.1 326.4 834.8 324.0Z" fill="#fff" stroke="#111" stroke-width="5.2" stroke-linejoin="round"/>
<path d="M834.8 324.0C838.4 321.6 860.1 310.8 869.6 306.6C879.1 302.4 919.0 286.0 929.9 282.3C940.8 278.5 972.3 269.8 978.6 268.8C984.9 267.8 990.8 270.4 992.9 271.8C995.1 273.2 999.4 280.7 999.9 282.7C1000.4 284.7 1003.4 287.9 998.3 292.0C993.1 296.1 958.5 317.8 948.4 324.0C938.3 330.2 903.7 350.9 897.4 354.1C891.1 357.4 891.8 358.7 885.8 356.9C879.8 355.1 842.4 338.7 837.1 336.1C831.8 333.4 833.4 331.7 833.2 330.5C832.9 329.3 831.1 326.4 834.8 324.0Z" fill="#fff" stroke="#fff" stroke-width="2.4" stroke-linejoin="round"/>
<path class="n" d="M842.9 325.9C851.5 321.6 916.4 293.8 929.9 288.7C943.3 283.6 971.5 276.0 977.4 274.8C983.3 273.7 987.5 276.2 989.0 277.2C990.5 278.1 996.5 280.4 992.5 284.1C988.4 287.9 957.9 308.6 948.4 314.7C938.9 320.8 903.5 342.1 897.4 345.3C891.3 348.6 892.3 348.6 887.0 347.2C881.6 345.8 848.5 333.1 844.1 331.0C839.7 328.8 834.3 330.1 842.9 325.9Z" style="stroke-width:0.9"/>
<path class="s" d="M865.4 296.6L887.4 284.6L900.2 292.0L900.2 310.5L878.2 322.6L865.4 315.2Z"/>
<path class="n" d="M865.4 296.6L878.2 304.1L900.2 292.0"/>
<path class="n" d="M878.2 304.1L878.2 322.6"/>
<path class="s" d="M885.3 285.0L907.4 273.0L920.1 280.4L920.1 299.0L898.1 311.0L885.3 303.6Z"/>
<path class="n" d="M885.3 285.0L898.1 292.5L920.1 280.4"/>
<path class="n" d="M898.1 292.5L898.1 311.0"/>
<path class="s" d="M904.8 273.4L926.9 261.4L939.6 268.8L939.6 287.4L917.6 299.4L904.8 292.0Z"/>
<path class="n" d="M904.8 273.4L917.6 280.9L939.6 268.8"/>
<path class="n" d="M917.6 280.9L917.6 299.4"/>
<path class="s" d="M924.3 261.8L946.3 249.8L959.1 257.2L959.1 275.8L937.1 287.8L924.3 280.4Z"/>
<path class="n" d="M924.3 261.8L937.1 269.3L959.1 257.2"/>
<path class="n" d="M937.1 269.3L937.1 287.8"/>
<path class="s" d="M864.9 317.0L876.5 310.1L897.4 314.7L897.4 337.9L881.2 347.2L864.9 337.9Z"/>
<path class="n" d="M864.9 317.0L881.2 324.0L897.4 314.7"/>
<path class="n" d="M881.2 324.0L881.2 347.2"/>
<path class="s" d="M896.2 306.6L900.4 303.4L908.3 304.3L909.7 308.9L909.2 315.4L906.9 316.3L906.9 325.2L905.1 325.6L905.1 317.3L900.9 319.1L900.9 327.9L899.0 328.4L899.0 319.6L896.7 318.7Z" style="stroke-width:1.1"/>
<circle class="n" cx="901.8" cy="308.0" r="1.5"/>
<path class="s" d="M913.6 296.2L917.8 292.9L925.7 293.8L927.1 298.5L926.6 305.0L924.3 305.9L924.3 314.7L922.4 315.2L922.4 306.8L918.3 308.7L918.3 317.5L916.4 318.0L916.4 309.2L914.1 308.2Z" style="stroke-width:1.1"/>
<circle class="n" cx="919.2" cy="297.6" r="1.5"/>
<path class="s" d="M931.0 285.7L935.2 282.5L943.1 283.4L944.5 288.1L944.0 294.5L941.7 295.5L941.7 304.3L939.8 304.7L939.8 296.4L935.7 298.3L935.7 307.1L933.8 307.5L933.8 298.7L931.5 297.8Z" style="stroke-width:1.1"/>
<circle class="n" cx="936.6" cy="287.1" r="1.5"/>
<path class="s" d="M948.4 274.1L952.6 270.9L960.5 271.8L961.9 276.5L961.4 282.9L959.1 283.9L959.1 292.7L957.2 293.2L957.2 284.8L953.1 286.7L953.1 295.5L951.2 295.9L951.2 287.1L948.9 286.2Z" style="stroke-width:1.1"/>
<circle class="n" cx="954.0" cy="275.5" r="1.5"/>
<path class="s" d="M905.5 292.7L909.7 289.4L917.6 290.4L919.0 295.0L918.5 301.5L916.2 302.4L916.2 311.2L914.3 311.7L914.3 303.4L910.2 305.2L910.2 314.0L908.3 314.5L908.3 305.7L906.0 304.7Z" style="stroke-width:1.1"/>
<circle class="n" cx="911.1" cy="294.1" r="1.5"/>
<path class="s" d="M922.9 282.3L927.1 279.0L935.0 279.9L936.4 284.6L935.9 291.1L933.6 292.0L933.6 300.8L931.7 301.3L931.7 292.9L927.6 294.8L927.6 303.6L925.7 304.1L925.7 295.2L923.4 294.3Z" style="stroke-width:1.1"/>
<circle class="n" cx="928.5" cy="283.6" r="1.5"/>
<path class="s" d="M941.5 270.7L945.6 267.4L953.5 268.3L954.9 273.0L954.5 279.5L952.1 280.4L952.1 289.2L950.3 289.7L950.3 281.3L946.1 283.2L946.1 292.0L944.2 292.5L944.2 283.6L941.9 282.7Z" style="stroke-width:1.1"/>
<circle class="n" cx="947.0" cy="272.1" r="1.5"/>
<path class="s" d="M960.0 260.2L964.2 257.0L972.1 257.9L973.5 262.5L973.0 269.0L970.7 270.0L970.7 278.8L968.8 279.2L968.8 270.9L964.7 272.7L964.7 281.6L962.8 282.0L962.8 273.2L960.5 272.3Z" style="stroke-width:1.1"/>
<circle class="n" cx="965.6" cy="261.6" r="1.5"/>
<path class="s" d="M943.3 249.3L946.6 247.0L950.7 247.9L951.7 251.2L948.4 254.0L944.2 253.0Z" style="stroke-width:1.2"/>
<path class="s" d="M951.2 244.7L954.5 242.4L958.6 243.3L959.6 246.5L956.3 249.3L952.1 248.4Z" style="stroke-width:1.2"/>
<path class="s" d="M950.7 254.9L954.0 252.6L958.2 253.5L959.1 256.7L955.8 259.5L951.7 258.6Z" style="stroke-width:1.2"/>
<path class="s" d="M958.6 250.3L961.9 247.9L966.0 248.9L967.0 252.1L963.7 254.9L959.6 254.0Z" style="stroke-width:1.2"/>
<path class="s" d="M399.3 436.4L401.4 435.0L414.3 432.1L416.4 426.4L421.4 424.6L432.1 433.5L432.1 438.5L420.0 442.8L415.0 440.7L405.7 444.2L405.7 449.2L402.8 450.7L399.7 448.5Z"/>
<path class="n" d="M401.4 435.0L401.4 447.1L405.7 444.2"/>
<path class="n" d="M415.0 440.7L415.7 434.3L421.4 432.1L432.1 438.5"/>
<path class="n" d="M402.8 439.3L414.3 435.7"/>
<path class="d" d="M411.7 420.0L413.5 417.8L416.8 418.1L418.3 421.1L416.4 423.6L412.5 423.1Z"/>
<circle class="n" cx="415.0" cy="420.8" r="1.4" style="stroke:#fff;stroke-width:.8"/>
<path class="s" d="M388.6 467.1L394.3 461.4L398.6 456.4L410.7 454.0L417.4 459.9L420.7 464.9L430.0 471.4L431.1 482.8L427.8 487.8L410.7 493.5L394.3 485.6L393.6 477.8L389.3 474.2Z" style="stroke-width:1.8"/>
<path class="s" d="M395.0 462.1C394.8 460.9 397.7 457.2 399.3 456.4C400.8 455.6 408.9 453.8 410.7 454.2C412.5 454.7 417.2 459.4 417.4 460.7C417.6 461.9 414.7 466.3 413.1 467.1C411.5 467.9 403.2 469.0 401.4 468.5C399.6 468.0 395.2 463.3 395.0 462.1Z" style="stroke-width:1.8"/>
<path class="s" d="M405.7 472.1C405.6 470.7 409.0 468.0 410.7 467.4C412.4 466.8 421.0 465.5 422.8 465.9C424.7 466.4 429.0 470.7 429.2 472.1C429.5 473.5 427.5 479.0 425.7 479.9C423.9 480.9 413.4 482.4 411.4 481.6C409.4 480.9 405.8 473.5 405.7 472.1Z" style="stroke-width:1.8"/>
<path class="n" d="M397.8 461.4C398.3 461.1 401.3 458.9 402.8 458.5C404.4 458.2 412.5 457.9 413.5 457.8"/>
<path class="n" d="M408.5 474.2C409.1 473.9 412.5 471.1 414.3 470.7C416.0 470.3 425.2 470.3 426.4 470.2"/>
<path class="n" d="M394.3 485.6L395.7 474.2L401.4 468.5"/>
<path class="n" d="M410.7 493.5L411.4 481.6"/>
<path class="n" d="M395.7 474.2L405.7 472.1"/>
<path class="n" d="M397.8 471.4L397.8 484.2"/>
<path class="n" d="M401.4 469.9L401.4 487.1"/>
<path class="n" d="M388.6 467.1L393.6 468.5L393.6 477.8"/>
<path class="s" d="M413.4 493.5L416.5 493.5L416.8 509.9L418.0 510.6L417.4 512.8L413.1 512.8L412.5 510.6L413.7 509.9Z"/>
<path class="d" d="M425.0 459.7L427.1 457.8L437.1 457.4L442.8 456.8L443.5 458.8L437.8 460.7L427.1 462.1Z"/>
<path class="n" d="M437.8 460.7C437.5 461.3 435.2 464.1 435.4 465.7C435.6 467.2 438.7 471.2 439.2 472.1" style="stroke-width:1.3"/>
<path class="s" d="M438.2 472.5L439.9 471.1L451.1 479.9L449.4 482.1Z" style="stroke-width:1.3"/>
<path class="d" d="M449.7 489.2L452.8 486.4L462.8 490.6L463.5 494.9L459.9 498.5L455.6 498.5L450.7 494.2Z"/>
<path class="n" d="M459.9 499.9L465.6 508.5" style="stroke-width:1.6"/>
<path class="n" d="M462.1 499.2L468.5 508.5" style="stroke-width:1.2"/>
<path class="s" d="M562.8 560.7L571.4 558.3L576.4 567.1L581.4 588.5L574.2 594.9L567.1 597.1Z" style="stroke-width:1.5"/>
<path class="n" d="M567.1 575.7L577.1 571.4" style="stroke-width:1.5"/>
<path class="n" d="M569.9 579.9L578.5 576.4L581.4 588.5" style="stroke-width:1.5"/>
<path d="M517.9 576.0L551.4 557.4L558.5 558.3L565.0 563.5L570.7 597.8L567.8 604.2L535.0 623.1L529.3 620.8L518.3 580.7Z" fill="#fff" stroke="#1c1c1c" stroke-width="3.2" stroke-linejoin="round"/>
<path d="M522.6 578.8L551.4 562.5L560.0 566.0L566.0 597.4L536.8 615.3L528.3 612.5Z" fill="none" stroke="#666" stroke-width="2.2" stroke-dasharray="1.1 0.7" stroke-linejoin="round"/>
<path class="n" d="M525.7 581.1L551.1 567.1L557.8 569.7L562.8 595.6L537.8 610.2L531.1 607.8Z" style="stroke:#333;stroke-width:1.2"/>
<path d="M528.8 583.1L550.7 571.1L555.7 573.1L560.0 594.2L538.5 606.4L533.6 604.5Z" fill="none" stroke="#999" stroke-width="2.4" stroke-dasharray="0.9 0.9" stroke-linejoin="round"/>
<circle class="s" cx="538.5" cy="586.4" r="3.1" style="stroke-width:1.4"/>
<circle class="s" cx="547.1" cy="581.7" r="3.6" style="stroke-width:1.4"/>
<path class="n" d="M536.4 586.8L540.7 585.9"/>
<path class="n" d="M529.3 620.8L531.4 618.5L537.1 619.9L535.0 623.1"/>
<path class="n" d="M561.4 603.5L567.8 601.4L568.8 603.5"/>
<path class="d" d="M557.8 620.6L560.0 619.6L563.5 621.1L563.1 623.1L560.0 623.1Z"/>
<path class="d" d="M571.4 612.8L574.2 611.8L577.4 613.1L576.8 615.1L573.5 615.1Z"/>
<path class="s" d="M608.5 541.4L615.6 548.5L622.8 552.1L624.2 562.8L625.6 575.7L619.9 578.5L609.9 577.1Z" style="stroke-width:1.4"/>
<path class="n" d="M612.8 548.5L618.5 562.8L624.2 562.8"/>
<path class="n" d="M616.3 552.8L622.8 555.7"/>
<path class="d" d="M585.4 544.6L589.9 540.0L597.8 537.4L608.5 540.0L610.6 548.5L608.5 562.8L609.9 576.0L597.1 578.2L592.8 574.2L589.9 565.7L587.1 557.1Z"/>
<g fill="#fff" opacity=".8"><rect x="592.1" y="545.7" width="1.6" height="1.6"/><rect x="595.6" y="544.3" width="1.6" height="1.6"/><rect x="599.2" y="547.1" width="1.6" height="1.6"/><rect x="594.2" y="550.7" width="1.6" height="1.6"/><rect x="597.8" y="554.3" width="1.6" height="1.6"/><rect x="601.4" y="552.1" width="1.6" height="1.6"/><rect x="595.6" y="561.4" width="1.6" height="1.6"/><rect x="599.2" y="564.2" width="1.6" height="1.6"/><rect x="602.8" y="562.8" width="1.6" height="1.6"/><rect x="597.1" y="569.2" width="1.6" height="1.6"/><rect x="601.4" y="571.4" width="1.6" height="1.6"/><rect x="604.9" y="568.5" width="1.6" height="1.6"/><rect x="603.5" y="545.7" width="1.6" height="1.6"/><rect x="604.2" y="557.1" width="1.6" height="1.6"/></g>
<path class="s" d="M608.2 576.8L625.9 575.4L625.0 588.5L623.9 605.6L624.5 617.3L615.3 618.8L613.1 605.6L610.6 588.5Z" style="stroke-width:1.3"/>
<path class="n" d="M616.3 577.1L619.2 595.6"/>
<path class="n" d="M619.2 576.4L619.6 595.6"/>
<path class="s" d="M615.1 618.8L624.5 617.3L625.3 621.6L615.6 623.1Z" style="stroke-width:1.3"/>
<ellipse class="s" cx="619.9" cy="627.3" rx="10.6" ry="3.6" transform="rotate(-14 619.9 627.3)"/>
<ellipse class="s" cx="620.6" cy="624.9" rx="6.4" ry="2.6" transform="rotate(-14 620.6 624.9)"/>
<circle class="n" cx="612.1" cy="629.6" r="1.3"/>
<circle class="n" cx="628.2" cy="625.6" r="1.3"/>
<path class="d" d="M639.2 545.7L642.0 542.8L644.2 541.4L647.7 540.0L648.2 542.1L645.6 545.0L644.9 547.8L642.0 549.3Z"/>
<path class="s" d="M662.8 448.5C662.9 447.7 665.3 444.8 667.1 443.5C668.9 442.2 685.2 432.0 687.1 431.1C689.0 430.2 690.5 429.8 692.8 431.7C695.1 433.6 716.6 454.8 718.5 457.1C720.4 459.4 720.8 461.2 719.2 462.8C717.6 464.4 699.2 477.3 697.1 478.5C695.0 479.7 693.0 481.4 690.7 479.6C688.4 477.9 667.7 457.2 665.7 454.9C663.6 452.7 662.7 449.4 662.8 448.5Z" style="stroke-width:1.3"/>
<circle class="n" cx="703.9" cy="448.2" r="1.6"/>
<circle class="n" cx="677.8" cy="463.1" r="1.6"/>
<circle class="d" cx="709.2" cy="413.6" r="3.1"/>
<circle class="n" cx="709.2" cy="413.6" r="1.2" style="stroke:#aaa"/>
<circle class="d" cx="735.3" cy="399.3" r="2.8"/>
<circle class="n" cx="735.3" cy="399.3" r="1.1" style="stroke:#aaa"/>
<path class="s" d="M632.5 496.9L636.9 490.7L646.8 506.7L640.5 511.4Z" style="stroke-width:1.3"/>
<path class="s" d="M645.9 516.6L650.3 510.3L661.9 522.8L653.9 526.4Z" style="stroke-width:1.3"/>
<path d="M636.9 489.3C635.6 487.1 638.0 486.2 639.6 484.9C641.3 483.6 659.9 470.7 661.9 469.7C663.9 468.7 667.8 468.2 670.0 470.0C672.1 471.8 692.0 494.2 693.6 496.5C695.2 498.7 695.1 502.1 693.3 503.6C691.6 505.1 669.6 518.5 667.3 519.4C665.0 520.4 661.3 519.9 659.3 517.9C657.2 515.9 638.3 491.5 636.9 489.3Z" fill="#fff" stroke="#111" stroke-width="2.2" stroke-linejoin="round"/>
<path class="n" d="M642.3 490.2C641.2 488.5 643.2 487.3 644.5 486.2C645.9 485.2 661.2 475.0 662.8 474.2C664.5 473.4 667.3 473.1 669.1 474.6C670.8 476.1 687.4 495.1 688.7 496.9C690.0 498.7 689.7 500.2 688.2 501.4C686.8 502.5 668.7 513.5 666.8 514.3C665.0 515.1 662.2 514.6 660.6 513.0C659.0 511.4 643.4 492.0 642.3 490.2Z"/>
<path class="d" d="M643.6 488.5L659.3 477.7L661.9 479.1L661.0 482.7L646.8 491.6Z" style="opacity:.8"/>
<path class="n" d="M648.5 496.0L654.8 492.5L659.3 499.6L653.0 505.0Z" style="stroke:#666"/>
<path class="n" d="M671.7 488.9C672.3 487.4 675.3 485.0 677.1 485.3C678.9 485.6 682.1 489.0 682.4 490.7C682.7 492.3 680.4 494.5 678.9 495.1C677.4 495.7 674.7 495.3 673.5 494.3C672.3 493.2 671.1 490.4 671.7 488.9Z" style="stroke:#444"/>
<path class="n" d="M657.5 510.3L661.9 507.6L664.6 512.1L660.1 514.8Z" style="stroke:#555"/>
<circle class="d" cx="658.4" cy="502.7" r="0.9"/>
<circle class="d" cx="663.3" cy="500.7" r="0.9"/>
<circle class="d" cx="667.7" cy="498.5" r="0.9"/>
<circle class="d" cx="668.6" cy="514.3" r="0.9"/>
<circle class="d" cx="672.2" cy="511.9" r="0.9"/>
<circle class="d" cx="676.6" cy="509.2" r="0.9"/>
<path class="d" d="M665.7 529.9L667.7 527.7L672.6 525.0L673.5 526.4L671.3 530.8L670.0 533.9L666.8 533.5Z"/>
<path class="n" d="M668.2 530.8L670.8 529.5" style="stroke:#fff"/>
<ellipse class="s" cx="905.4" cy="798.5" rx="14.5" ry="19.0" style="stroke-width:1.3" transform="rotate(12 905.4 798.5)"/>
<ellipse class="n" cx="905.4" cy="798.5" rx="11.0" ry="15.5" style="stroke-width:1" transform="rotate(12 905.4 798.5)"/>
<ellipse class="g" cx="905.4" cy="798.5" rx="8.5" ry="12.5" style="stroke-width:1" transform="rotate(12 905.4 798.5)"/>
<ellipse class="g" cx="905.4" cy="798.5" rx="5.0" ry="8.5" style="stroke-width:1" transform="rotate(12 905.4 798.5)"/>
<path d="M907.8 798.8C909.8 799.3 916.3 800.0 919.9 802.1C923.6 804.1 927.4 807.6 929.9 811.3C932.4 815.0 934.1 822.0 934.9 824.2" fill="none" stroke="#111" stroke-width="14.6" stroke-linecap="butt"/>
<path d="M907.8 798.8C909.8 799.3 916.3 800.0 919.9 802.1C923.6 804.1 927.4 807.6 929.9 811.3C932.4 815.0 934.1 822.0 934.9 824.2" fill="none" stroke="#fff" stroke-width="12.1" stroke-linecap="round"/>
<ellipse class="s" cx="909.2" cy="798.5" rx="4.2" ry="7.6" transform="rotate(12 909.2 798.5)"/>
<path class="s" d="M875.4 799.9L877.8 796.8L886.4 795.9L890.7 799.2L890.3 808.5L887.1 812.0L879.3 812.8L876.0 809.2Z" style="stroke-width:1.4"/>
<path class="d" d="M875.4 799.9L877.8 796.8L886.4 795.9L890.7 799.2L887.1 802.1L879.3 802.8Z"/>
<path class="n" d="M879.3 802.8L879.3 812.8"/>
<path class="n" d="M883.6 802.5L883.6 812.5"/>
<path class="n" d="M887.1 802.1L887.1 812.0"/>
<path class="d" d="M877.1 809.9L888.5 810.2L886.4 813.0L879.3 813.5Z"/>
<path class="s" d="M874.3 723.6L877.1 721.4L888.5 721.7L890.3 725.0L890.0 736.4L887.1 739.3L877.8 738.8L876.0 735.7Z" style="stroke-width:1.3"/>
<path class="d" d="M876.0 727.8L881.4 730.0L881.4 738.8L877.8 738.8L876.0 735.7Z" style="opacity:.85"/>
<path class="d" d="M881.4 730.0L890.0 726.4L890.0 736.4L887.1 739.3L881.4 738.8Z" style="opacity:.55"/>
<path class="n" d="M874.3 723.6L881.4 726.0L890.3 722.8"/>
<path class="d" d="M873.6 722.6L875.7 721.4L878.6 722.1L876.4 723.6Z"/>
<path d="M880.8 740.3L880.8 795.3" stroke="#444" stroke-width="1.1" stroke-dasharray="5 1.6" fill="none"/>
<path class="n" d="M917.1 741.1L915.4 750.7" style="stroke-width:1.4"/>
<path class="s" d="M908.8 756.4L912.1 751.4L921.4 751.1L924.2 755.0L923.5 764.2L919.2 767.4L911.4 766.8L908.5 762.8Z" style="stroke-width:1.4"/>
<path class="d" d="M912.1 751.4L921.4 751.1L924.2 755.0L919.9 757.1L910.0 757.1Z"/>
<path class="n" d="M910.0 757.1L910.7 766.4"/>
<path class="n" d="M919.9 757.1L919.7 767.1"/>
<path class="n" d="M915.0 757.4L915.0 767.1"/>
<path class="n" d="M938.2 736.4L938.8 747.8" style="stroke-width:2"/>
<path class="s" d="M933.5 751.4L934.9 747.8L945.6 748.2L947.4 751.4L946.8 757.8L934.2 759.2Z" style="stroke-width:1.4"/>
<path class="d" d="M934.9 747.8L945.6 748.2L947.4 751.4L933.5 751.7Z"/>
<path class="n" d="M937.8 752.1L937.8 758.5"/>
<path class="n" d="M942.1 751.8L942.1 758.2"/>
<path class="d" d="M939.2 753.5L941.1 753.5L941.1 757.1L939.2 757.1Z" style="opacity:.6"/>
<path class="n" d="M919.9 738.8C921.4 738.6 925.5 737.9 928.5 737.5C931.6 737.2 936.6 736.7 938.2 736.5" style="stroke-width:1.3"/>
<path class="n" d="M938.8 736.8C939.9 736.9 943.1 735.7 945.6 737.4C948.2 739.1 951.8 743.9 954.2 747.1C956.6 750.3 959.0 754.8 959.9 756.4" style="stroke-width:1"/>
<path class="d" d="M890.7 753.5L893.5 750.2L898.5 750.0L902.8 752.1L904.2 755.0L900.7 756.8L895.7 758.5L892.1 757.8Z"/>
<path class="n" d="M902.8 754.2C903.8 753.5 906.2 752.4 908.5 750.0C910.9 747.5 915.4 741.4 916.8 739.7" style="stroke-width:1.2"/>
<path class="d" d="M878.6 762.8L880.0 761.4L882.8 764.2L881.4 765.9Z"/>
<path class="d" d="M885.0 759.2L887.1 758.2L889.7 762.8L887.8 764.2Z"/>
<path class="n" d="M881.4 764.9C882.1 766.5 883.6 771.0 885.7 774.2C887.8 777.4 891.4 781.4 894.3 784.2C897.1 787.1 901.4 790.2 902.8 791.4" style="stroke-width:1.5"/>
<path class="n" d="M887.8 763.5C888.3 765.3 889.4 770.5 890.7 774.2C892.0 777.9 892.9 782.3 895.7 785.6C898.4 789.0 903.5 792.1 907.1 794.2C910.7 796.3 915.4 797.8 917.1 798.5" style="stroke-width:1.3"/>
<path class="n" d="M860.0 772.1L885.0 782.8L888.5 777.1" style="stroke-width:1.2"/>
<path class="d" d="M867.1 765.7L869.9 763.6L874.2 764.3L875.4 767.1L872.1 769.3L868.2 768.5Z"/>
<rect x="832.0" y="764.2" width="36" height="7.6" rx="3.8" fill="#8a8a8a" stroke="#111" stroke-width="1.5" transform="rotate(-26 850.0 768.0)"/>
<rect x="842.0" y="766.5" width="24" height="3" rx="1.5" fill="#444" transform="rotate(-26 850.0 768.0)"/>
<circle class="n" cx="838.3" cy="774.0" r="1.8" style="stroke:#ddd"/>
<path class="n" d="M849.2 777.8C848.2 779.1 845.0 783.1 842.8 785.7C840.7 788.3 837.5 792.2 836.4 793.5" style="stroke-width:1.3"/>
<ellipse class="n" cx="834.0" cy="797.4" rx="1.8" ry="2.8" style="stroke-width:1.2" transform="rotate(30 834.0 797.4)"/>
<ellipse cx="860.9" cy="835.1" rx="9" ry="12.2" fill="#999" stroke="#222" stroke-width="1.2" transform="rotate(22 861.7 834.5)"/>
<ellipse cx="862.7" cy="833.9" rx="7.2" ry="10.4" fill="#eee" stroke="#333" stroke-width="1" transform="rotate(22 861.7 834.5)"/>
<path class="n" d="M862.7 834.5l5 -7m-5 7l-5 6m5 -6l6 3m-6 -3l-6 -4m6 4l1 8m-1 -8l-2 -8" style="stroke:#444;stroke-width:1.1"/>
<path class="s" d="M794.3 665.7L805.7 657.9L809.2 662.1L810.0 667.1L817.1 665.7L818.8 674.3L816.4 680.7L808.5 685.4L801.4 682.1L797.4 674.3Z" style="stroke-width:1.4"/>
<path class="n" d="M794.3 665.7L798.3 670.7L809.2 662.1"/>
<path class="n" d="M798.3 670.7L801.4 682.1"/>
<path class="n" d="M801.4 675.7L816.4 670.0" style="stroke-width:1.6"/>
<path class="d" d="M807.1 682.1L816.4 677.1L817.1 680.3L809.2 685.0Z" style="opacity:.7"/>
<path class="d" d="M820.7 664.3L824.9 660.3L832.1 662.1L834.2 667.8L831.4 672.8L824.9 674.3L821.4 670.0Z"/>
<path class="s" d="M816.4 667.8L821.4 665.7L822.8 671.4L817.8 673.6Z"/>
<path class="s" d="M842.8 656.4L852.8 650.7L859.9 658.6L851.4 665.7Z" style="stroke-width:1.5"/>
<path class="s" d="M853.5 649.3L862.8 644.3L870.6 652.9L860.6 657.9Z" style="stroke-width:1.5"/>
<path class="n" d="M845.6 657.1L852.8 653.1L857.1 658.3"/>
<path class="d" d="M851.4 665.7L859.9 658.6L861.6 660.7L853.5 667.8Z"/>
<path class="d" d="M860.6 657.9L870.6 652.9L872.0 655.0L862.8 660.3Z"/>
<path class="s" d="M857.1 666.4L860.6 664.3L863.5 668.6L859.9 671.1Z"/>
<path class="s" d="M868.5 657.9L872.0 656.0L874.9 660.3L871.3 662.6Z"/>
<path class="n" d="M859.9 671.1L866.3 675.7" style="stroke-width:1.4"/>
<path class="n" d="M872.8 662.1L878.5 670.0" style="stroke-width:2"/>
<path class="n" d="M866.3 675.7L874.2 670.7L878.5 670.0" style="stroke-width:1.3"/>
<path class="d" d="M765.7 692.1L767.9 690.7L775.7 695.7L774.0 697.8Z"/>
<path class="d" d="M766.4 696.4L768.3 695.0L775.0 699.2L773.6 701.1Z"/>
<path class="n" d="M775.0 696.4C776.5 697.9 781.6 702.2 784.3 705.7C786.9 709.1 788.9 714.2 790.7 717.1C792.5 719.9 794.3 721.8 795.0 722.8" style="stroke-width:1.8"/>
<path class="n" d="M774.3 700.0C775.5 701.1 779.0 704.2 781.4 707.1C783.8 709.9 787.4 715.4 788.5 717.1" style="stroke-width:1.2"/>
<rect x="1072.2" y="775.9" width="15.6" height="8.3" rx="1.6" fill="#fff" stroke="#111" stroke-width="1.7" transform="rotate(48.0 1080.0 780.0)"/>
<rect x="1072.8" y="776.5" width="5.3" height="7.1" fill="#222" transform="rotate(48.0 1080.0 780.0)"/>
<path d="M1078.5 778.6h8.1M1078.5 781.7h8.1" stroke="#222" stroke-width="1.5" fill="none" transform="rotate(48.0 1080.0 780.0)"/>
<path d="M1083.5 775.9v8.3" stroke="#222" stroke-width="1.3" fill="none" transform="rotate(48.0 1080.0 780.0)"/>
<rect x="1005.4" y="849.5" width="17.5" height="8.3" rx="1.6" fill="#fff" stroke="#111" stroke-width="1.7" transform="rotate(40.0 1014.1 853.6)"/>
<rect x="1006.0" y="850.1" width="5.9" height="7.1" fill="#222" transform="rotate(40.0 1014.1 853.6)"/>
<path d="M1012.4 852.1h9.1M1012.4 855.3h9.1" stroke="#222" stroke-width="1.5" fill="none" transform="rotate(40.0 1014.1 853.6)"/>
<path d="M1018.0 849.5v8.3" stroke="#222" stroke-width="1.3" fill="none" transform="rotate(40.0 1014.1 853.6)"/>
<rect x="989.5" y="898.1" width="11.0" height="7.4" rx="1.6" fill="#fff" stroke="#111" stroke-width="1.7" transform="rotate(-25.0 995.0 901.8)"/>
<rect x="990.1" y="898.7" width="3.8" height="6.2" fill="#222" transform="rotate(-25.0 995.0 901.8)"/>
<path d="M993.9 900.5h5.7M993.9 903.3h5.7" stroke="#222" stroke-width="1.5" fill="none" transform="rotate(-25.0 995.0 901.8)"/>
<path d="M997.5 898.1v7.4" stroke="#222" stroke-width="1.3" fill="none" transform="rotate(-25.0 995.0 901.8)"/>
<rect x="967.4" y="843.4" width="11.0" height="12.0" rx="1.6" fill="#fff" stroke="#111" stroke-width="1.7" transform="rotate(10.0 972.9 849.4)"/>
<rect x="968.0" y="844.0" width="3.8" height="10.8" fill="#222" transform="rotate(10.0 972.9 849.4)"/>
<path d="M971.8 847.3h5.7M971.8 851.8h5.7" stroke="#222" stroke-width="1.5" fill="none" transform="rotate(10.0 972.9 849.4)"/>
<path d="M975.4 843.4v12.0" stroke="#222" stroke-width="1.3" fill="none" transform="rotate(10.0 972.9 849.4)"/>
<rect x="875.7" y="884.7" width="17.5" height="11.0" rx="1.6" fill="#fff" stroke="#111" stroke-width="1.7" transform="rotate(25.0 884.4 890.2)"/>
<rect x="876.3" y="885.3" width="5.9" height="9.8" fill="#222" transform="rotate(25.0 884.4 890.2)"/>
<path d="M882.7 888.2h9.1M882.7 892.4h9.1" stroke="#222" stroke-width="1.5" fill="none" transform="rotate(25.0 884.4 890.2)"/>
<path d="M888.3 884.7v11.0" stroke="#222" stroke-width="1.3" fill="none" transform="rotate(25.0 884.4 890.2)"/>
<path class="n" d="M1027.7 794.2L1034.1 801.9" style="stroke-width:1.3"/>
<path class="n" d="M1030.1 792.2L1036.5 799.8" style="stroke-width:1.3"/>
<circle class="d" cx="1035.3" cy="800.9" r="1.6"/>
<path class="n" d="M1001.3 829.3L1002.2 839.3" style="stroke-width:1.3"/>
<path class="n" d="M1004.5 829.0L1005.4 839.0" style="stroke-width:1.3"/>
<circle class="d" cx="1003.8" cy="839.1" r="1.6"/>
<path class="d" d="M922.9 855.9L929.8 852.9L931.0 861.1L925.2 863.4Z"/>
<path class="d" d="M898.4 870.4L918.2 873.9L919.4 879.7L899.6 877.4Z" style="opacity:.85"/>
<path class="d" d="M921.0 870.4L926.4 871.5L925.2 880.9L921.0 879.7Z" style="opacity:.85"/>
<path class="n" d="M891.2 907.3L907.2 910.1" style="stroke-width:1.3"/>
<path class="n" d="M891.8 904.1L907.7 906.9" style="stroke-width:1.3"/>
<circle class="d" cx="907.5" cy="908.5" r="1.6"/>
<path class="n" d="M876.5 945.2L891.2 938.4" style="stroke-width:1.3"/>
<path class="n" d="M875.2 942.3L889.9 935.5" style="stroke-width:1.3"/>
<circle class="d" cx="890.6" cy="936.9" r="1.6"/>
<path class="n" d="M952.5 799.6L956.7 805.5" style="stroke-width:1.3"/>
<path class="n" d="M955.2 797.8L959.3 803.7" style="stroke-width:1.3"/>
<circle class="d" cx="958.0" cy="804.6" r="1.6"/>
<path class="s" d="M200.5 437.7L210.3 431.9L216.6 435.0L216.6 445.7L206.8 450.1L200.5 448.4Z" style="stroke-width:1.5"/>
<path class="n" d="M200.5 437.7L206.8 440.8L216.6 435.0" style="stroke-width:1.4"/>
<path class="n" d="M206.8 440.8L206.8 450.1" style="stroke-width:1.4"/>
<circle class="d" cx="211.2" cy="443.7" r="1.6"/>
<path class="n" d="M218.5 438.4L218.5 445.7L222.8 447.5" style="stroke-width:1.4"/>
<path class="s" d="M221.9 439.3L223.3 438.4L237.1 445.7L236.0 447.0Z" style="stroke-width:1.2"/>
<circle class="d" cx="235.8" cy="447.5" r="2.3"/>
<path class="d" d="M208.4 447.9L212.1 446.1L221.9 449.3L233.5 456.4L237.1 460.0L237.1 464.4L231.7 466.6L226.4 463.5L219.3 459.5L212.1 451.9Z" style="opacity:.8"/>
<path class="n" d="M215.7 447.5L230.0 452.8L242.4 460.0L254.9 467.1" style="stroke-width:1.3"/>
<path class="n" d="M233.5 458.2L244.2 463.5L253.1 468.9" style="stroke-width:1.3"/>
<path class="d" d="M253.1 468.0L256.7 466.2L263.9 468.9L266.5 472.4L264.7 475.6L260.3 475.1L254.0 471.6Z"/>
<circle class="d" cx="191.6" cy="431.9" r="2.5"/>
<circle class="d" cx="196.9" cy="435.0" r="2.7"/>
<circle class="n" cx="196.9" cy="435.0" r="1.0" style="stroke:#ccc"/>
<path d="M539.1 272.6C538.3 273.7 536.4 277.2 534.6 279.2C532.8 281.2 530.1 283.4 528.2 284.6C526.2 285.8 524.2 285.8 522.8 286.5C521.4 287.3 520.7 288.0 519.6 289.1C518.5 290.2 517.6 292.1 516.4 293.2C515.1 294.2 513.5 295.3 512.1 295.3C510.7 295.3 509.1 294.4 508.0 293.4C507.0 292.3 506.3 289.8 505.9 289.1" fill="none" stroke="#111" stroke-width="6.4" stroke-linecap="round"/>
<path d="M539.1 272.6C538.3 273.7 536.4 277.2 534.6 279.2C532.8 281.2 530.1 283.4 528.2 284.6C526.2 285.8 524.2 285.8 522.8 286.5C521.4 287.3 520.7 288.0 519.6 289.1C518.5 290.2 517.6 292.1 516.4 293.2C515.1 294.2 513.5 295.3 512.1 295.3C510.7 295.3 509.1 294.4 508.0 293.4C507.0 292.3 506.3 289.8 505.9 289.1" fill="none" stroke="#fff" stroke-width="3.8" stroke-linecap="round"/>
<path class="n" d="M522.0 284.1C522.1 284.6 522.2 286.5 522.8 287.3C523.4 288.1 525.0 288.6 525.5 288.9" style="stroke-width:1"/>
<path class="s" d="M535.7 269.6L547.4 250.9L554.9 255.2L544.2 273.9Z" style="stroke-width:1.8"/>
<path class="d" d="M535.7 269.6L538.7 265.1L546.6 269.6L544.2 273.9Z" style="opacity:.6"/>
<path class="d" d="M545.1 254.8L547.4 250.9L554.9 255.2L552.8 258.9Z" style="opacity:.6"/>
<path class="n" d="M543.2 258.9L550.1 262.6" style="stroke-width:1.5"/>
<path class="n" d="M546.9 256.8L539.9 267.5" style="stroke-width:1.3"/>
<path class="n" d="M550.1 258.4L543.2 269.1" style="stroke-width:1.3"/>
<path class="d" d="M497.7 280.3L500.9 276.0L508.4 276.6L511.0 285.7L508.0 290.2L503.8 288.0L499.3 284.6Z"/>
<circle class="n" cx="502.7" cy="279.5" r="1.2" style="stroke:#fff"/>
<circle class="n" cx="506.2" cy="283.5" r="1.2" style="stroke:#fff"/>
<path class="s" d="M711.6 617.8L744.2 599.1L753.3 603.9L721.2 623.2Z" style="stroke-width:1.3"/>
<path class="n" d="M722.6 614.8l2.6 -1.5M726.5 616.9l2.6 -1.5M726.9 612.3l2.6 -1.5M730.7 614.5l2.6 -1.5M732.4 609.1l2.6 -1.5M736.3 611.3l2.6 -1.5M736.7 606.7l2.6 -1.5M740.5 608.8l2.6 -1.5M742.7 603.8l2.6 -1.5M746.1 605.7l2.6 -1.5" style="stroke-width:2.6;stroke:#111"/>
<path class="s" d="M705.3 641.2C706.6 639.7 719.9 631.0 722.8 629.1C725.7 627.2 737.8 619.6 739.9 618.5C742.1 617.4 746.9 615.7 748.5 615.9C750.1 616.1 757.8 620.2 758.7 621.3C759.5 622.3 759.0 627.5 758.8 628.7C758.5 630.0 757.1 634.7 755.6 636.0C754.0 637.4 742.6 643.6 739.9 645.1C737.3 646.6 726.0 653.5 724.1 654.2C722.2 655.0 718.9 654.8 717.5 654.2C716.0 653.6 707.6 648.4 706.5 647.3C705.5 646.2 703.9 642.7 705.3 641.2Z" style="stroke-width:1.4"/>
<path class="n" d="M708.0 640.3C710.1 638.4 736.6 623.0 739.9 621.3C743.3 619.5 747.3 618.7 748.5 618.9C749.8 619.1 756.9 621.3 754.9 623.2C753.0 625.1 728.3 639.6 725.0 641.4C721.7 643.2 716.7 644.7 715.3 644.6C713.9 644.5 706.0 642.3 708.0 640.3Z" style="stroke-width:1"/>
<path class="n" d="M725.0 641.4L725.0 653.2"/>
<path class="n" d="M715.3 644.6L717.5 654.2"/>
<path class="g" d="M727.1 645.7L756.0 629.1"/>
<path class="n" d="M726.0 649.9L757.1 632.3"/>
<path class="n" d="M748.5 615.9L750.6 622.1L758.7 621.3"/>
<path class="n" d="M708.0 640.3L708.9 646.7"/>
<path class="n" d="M710.0 643.5L714.3 645.7L714.3 650.5L710.5 648.3Z"/>
<circle class="d" cx="754.5" cy="645.9" r="3.2"/>
<path class="s" d="M752.9 648.4L752.9 656.4L756.1 656.4L756.1 648.4Z" style="stroke-width:1.1"/>
<circle class="d" cx="709.7" cy="671.6" r="3.2"/>
<path class="s" d="M708.1 674.1L708.1 682.1L711.3 682.1L711.3 674.1Z" style="stroke-width:1.1"/>
<path class="s" d="M707.1 691.2L722.1 680.0L741.4 666.1L754.2 673.0L767.1 681.0L766.2 687.7L756.4 692.0L732.8 703.5L733.0 712.6L716.2 717.2L702.0 701.6Z" style="stroke-width:2.2"/>
<path class="s" d="M702.0 701.6L709.3 698.7L724.3 703.5L732.8 703.5L733.0 712.6L716.2 717.2Z" style="stroke-width:1.8"/>
<path class="d" d="M711.4 709.9L722.1 706.7L725.3 709.9L716.8 714.2Z" style="opacity:.8"/>
<path class="d" d="M725.3 703.5L732.8 703.5L733.0 712.6L726.9 714.2Z"/>
<path class="d" d="M722.1 698.7L756.4 678.7L766.2 682.1L766.2 687.7L756.4 692.0L732.8 703.5L724.3 703.5Z" style="fill:#2a2a2a"/>
<g fill="#fff"><path d="M733.4 695.5L736.2 693.9L736.7 699.5L733.7 701.0Z"/><path d="M740.3 691.5L744.4 689.4L744.8 695.0L741.0 696.9Z"/><path d="M748.3 687.3L752.3 685.1L752.7 690.7L748.9 692.6Z"/><path d="M754.8 685.3L763.9 681.9L765.1 686.9L756.9 690.5Z"/></g>
<path class="s" d="M707.7 691.5L741.4 666.3L756.4 674.4L722.1 699.0Z" style="stroke-width:2"/>
<path class="d" d="M736.0 671.4L741.4 667.7L754.2 674.6L748.3 678.7Z" style="fill:#2a2a2a"/>
<path class="d" d="M725.3 685.3L749.9 668.2L754.2 670.9L730.7 688.5Z" style="opacity:.85"/>
<path class="s" d="M716.8 684.0L722.3 680.0L726.6 682.3L721.0 686.6Z" style="stroke-width:1.2"/>
<path class="s" d="M723.0 679.5L728.5 675.5L732.8 677.8L727.3 682.1Z" style="stroke-width:1.2"/>
<path class="s" d="M729.2 675.0L734.7 671.0L739.0 673.3L733.5 677.6Z" style="stroke-width:1.2"/>
<path class="s" d="M735.4 670.6L741.0 666.5L745.2 668.8L739.7 673.1Z" style="stroke-width:1.2"/>
<path class="s" d="M717.6 685.3L722.1 687.7L726.9 684.5L726.4 690.7L721.9 693.9L718.0 691.5Z" style="stroke-width:1.3"/>
<path class="n" d="M722.1 687.7L721.9 693.9"/>
<path class="n" d="M711.4 695.0L715.7 692.8L716.8 697.1L713.0 698.7Z" style="stroke-width:1.3"/>
<path class="n" d="M709.8 693.4L723.2 700.3L756.4 678.0" style="stroke-width:1"/>
<path class="d" d="M726.9 712.6L733.0 711.0L733.2 715.3L727.5 716.9Z"/>
<rect x="21.4" y="367.7" width="12.0" height="12.9" rx="1.6" fill="#fff" stroke="#111" stroke-width="1.7" transform="rotate(15.0 27.4 374.2)"/>
<rect x="22.0" y="368.3" width="4.1" height="11.7" fill="#222" transform="rotate(15.0 27.4 374.2)"/>
<path d="M26.2 371.9h6.2M26.2 376.8h6.2" stroke="#222" stroke-width="1.5" fill="none" transform="rotate(15.0 27.4 374.2)"/>
<path d="M30.0 367.7v12.9" stroke="#222" stroke-width="1.3" fill="none" transform="rotate(15.0 27.4 374.2)"/>
<rect x="301.9" y="372.7" width="20.2" height="8.3" rx="1.6" fill="#fff" stroke="#111" stroke-width="1.7" transform="rotate(22.0 312.0 376.8)"/>
<rect x="302.5" y="373.3" width="6.9" height="7.1" fill="#222" transform="rotate(22.0 312.0 376.8)"/>
<path d="M310.0 375.4h10.5M310.0 378.5h10.5" stroke="#222" stroke-width="1.5" fill="none" transform="rotate(22.0 312.0 376.8)"/>
<path d="M316.4 372.7v8.3" stroke="#222" stroke-width="1.3" fill="none" transform="rotate(22.0 312.0 376.8)"/>
<rect x="259.7" y="230.9" width="11.0" height="8.3" rx="1.6" fill="#fff" stroke="#111" stroke-width="1.7" transform="rotate(20.0 265.3 235.0)"/>
<rect x="260.3" y="231.5" width="3.8" height="7.1" fill="#222" transform="rotate(20.0 265.3 235.0)"/>
<path d="M264.2 233.5h5.7M264.2 236.7h5.7" stroke="#222" stroke-width="1.5" fill="none" transform="rotate(20.0 265.3 235.0)"/>
<path d="M267.7 230.9v8.3" stroke="#222" stroke-width="1.3" fill="none" transform="rotate(20.0 265.3 235.0)"/>
<path class="n" d="M20.0 368.5L33.4 366.8" style="stroke-width:1.6"/>
<path class="n" d="M107.9 312.8L113.5 321.4" style="stroke-width:1.3"/>
<path class="n" d="M110.6 311.1L116.2 319.6" style="stroke-width:1.3"/>
<circle class="d" cx="114.8" cy="320.5" r="1.6"/>
<path class="n" d="M284.3 286.2L274.2 285.3" style="stroke-width:1.3"/>
<path class="n" d="M284.1 289.4L273.9 288.5" style="stroke-width:1.3"/>
<circle class="d" cx="274.0" cy="286.9" r="1.6"/>
<path class="n" d="M276.1 352.5L267.3 357.6" style="stroke-width:1.3"/>
<path class="n" d="M277.7 355.2L268.9 360.3" style="stroke-width:1.3"/>
<circle class="d" cx="268.1" cy="359.0" r="1.6"/>
<rect x="348.0" y="386.9" width="14.7" height="10.1" rx="1.6" fill="#fff" stroke="#111" stroke-width="1.7" transform="rotate(35.0 355.3 392.0)"/>
<rect x="348.6" y="387.5" width="5.0" height="8.9" fill="#222" transform="rotate(35.0 355.3 392.0)"/>
<path d="M353.9 390.1h7.7M353.9 394.0h7.7" stroke="#222" stroke-width="1.5" fill="none" transform="rotate(35.0 355.3 392.0)"/>
<path d="M358.6 386.9v10.1" stroke="#222" stroke-width="1.3" fill="none" transform="rotate(35.0 355.3 392.0)"/>
<path class="n" d="M309.7 466.5L316.1 478.5" style="stroke-width:1.3"/>
<path class="n" d="M312.6 465.0L318.9 477.0" style="stroke-width:1.3"/>
<circle class="d" cx="317.5" cy="477.7" r="1.6"/>
<path class="n" d="M260.5 493.7L266.4 504.8" style="stroke-width:1.3"/>
<path class="n" d="M263.4 492.2L269.3 503.3" style="stroke-width:1.3"/>
<circle class="d" cx="267.9" cy="504.1" r="1.6"/>
<path class="n" d="M228.2 538.0L241.3 541.5" style="stroke-width:1.3"/>
<path class="n" d="M229.0 534.9L242.1 538.4" style="stroke-width:1.3"/>
<circle class="d" cx="241.7" cy="540.0" r="1.6"/>
<path class="n" d="M214.9 571.9L225.0 575.1" style="stroke-width:1.3"/>
<path class="n" d="M215.9 568.8L226.0 572.1" style="stroke-width:1.3"/>
<circle class="d" cx="225.5" cy="573.6" r="1.6"/>
<rect class="s" x="288.7" y="519.1" width="10.0" height="14.0" rx="2.0" transform="rotate(-5.0 293.7 526.1)"/>
<rect x="289.2" y="519.1" width="9.0" height="3.6" fill="#333" transform="rotate(-5.0 293.7 526.1)"/>
<path d="M293.7 523.3v8.4" stroke="#222" stroke-width="1" fill="none" transform="rotate(-5.0 293.7 526.1)"/>
<rect class="s" x="320.9" y="501.4" width="9.0" height="13.0" rx="2.0" transform="rotate(5.0 325.4 507.9)"/>
<rect x="321.3" y="501.4" width="8.1" height="3.4" fill="#333" transform="rotate(5.0 325.4 507.9)"/>
<path d="M325.4 505.3v7.8" stroke="#222" stroke-width="1" fill="none" transform="rotate(5.0 325.4 507.9)"/>
<rect class="s" x="309.9" y="511.3" width="11.0" height="17.0" rx="2.0" transform="rotate(-8.0 315.4 519.8)"/>
<rect x="310.4" y="511.3" width="9.9" height="4.4" fill="#333" transform="rotate(-8.0 315.4 519.8)"/>
<path d="M315.4 516.4v10.2" stroke="#222" stroke-width="1" fill="none" transform="rotate(-8.0 315.4 519.8)"/>
<path class="n" d="M306.1 512.3C306.4 511.3 305.5 507.8 307.4 506.1C309.3 504.4 313.6 503.3 317.4 502.4C321.1 501.4 326.1 500.2 329.9 500.4C333.6 500.6 338.2 503.1 339.9 503.6" style="stroke-width:2.2"/>
<path class="s" d="M341.9 506.1L346.9 504.9L352.8 517.3L348.6 519.8Z" style="stroke-width:1.6"/>
<path class="n" d="M344.4 507.4L349.9 517.8"/>
<rect x="261.0" y="558.5" width="12.0" height="12.9" rx="1.6" fill="#fff" stroke="#111" stroke-width="1.7" transform="rotate(20.0 266.9 565.0)"/>
<rect x="261.6" y="559.1" width="4.1" height="11.7" fill="#222" transform="rotate(20.0 266.9 565.0)"/>
<path d="M265.7 562.7h6.2M265.7 567.6h6.2" stroke="#222" stroke-width="1.5" fill="none" transform="rotate(20.0 266.9 565.0)"/>
<path d="M269.6 558.5v12.9" stroke="#222" stroke-width="1.3" fill="none" transform="rotate(20.0 266.9 565.0)"/>
<rect x="257.4" y="611.0" width="11.0" height="13.8" rx="1.6" fill="#fff" stroke="#111" stroke-width="1.7" transform="rotate(-10.0 262.9 617.9)"/>
<rect x="258.0" y="611.6" width="3.8" height="12.6" fill="#222" transform="rotate(-10.0 262.9 617.9)"/>
<path d="M261.8 615.4h5.7M261.8 620.7h5.7" stroke="#222" stroke-width="1.5" fill="none" transform="rotate(-10.0 262.9 617.9)"/>
<path d="M265.4 611.0v13.8" stroke="#222" stroke-width="1.3" fill="none" transform="rotate(-10.0 262.9 617.9)"/>
<rect x="230.8" y="584.8" width="8.3" height="12.9" rx="1.6" fill="#fff" stroke="#111" stroke-width="1.7" transform="rotate(10.0 235.0 591.2)"/>
<rect x="231.4" y="585.4" width="2.8" height="11.7" fill="#222" transform="rotate(10.0 235.0 591.2)"/>
<path d="M234.1 588.9h4.3M234.1 593.8h4.3" stroke="#222" stroke-width="1.5" fill="none" transform="rotate(10.0 235.0 591.2)"/>
<path d="M236.8 584.8v12.9" stroke="#222" stroke-width="1.3" fill="none" transform="rotate(10.0 235.0 591.2)"/>
<rect x="238.5" y="612.4" width="12.0" height="10.1" rx="1.6" fill="#fff" stroke="#111" stroke-width="1.7" transform="rotate(30.0 244.5 617.4)"/>
<rect x="239.1" y="613.0" width="4.1" height="8.9" fill="#222" transform="rotate(30.0 244.5 617.4)"/>
<path d="M243.3 615.6h6.2M243.3 619.4h6.2" stroke="#222" stroke-width="1.5" fill="none" transform="rotate(30.0 244.5 617.4)"/>
<path d="M247.1 612.4v10.1" stroke="#222" stroke-width="1.3" fill="none" transform="rotate(30.0 244.5 617.4)"/>
<path class="d" d="M251.9 602.4L262.4 599.9L262.9 607.4L253.7 609.4Z"/>
<path class="n" d="M336.9 499.9L349.4 493.6" style="stroke-width:1.1"/>
<path class="n" d="M525.3 684.1L516.7 696.4" style="stroke-width:1.3"/>
<path class="n" d="M527.9 686.0L519.3 698.3" style="stroke-width:1.3"/>
<circle class="d" cx="518.0" cy="697.3" r="1.6"/>
<path class="s" d="M569.8 726.1C569.8 724.5 573.5 722.3 574.8 722.3C576.2 722.3 582.3 724.8 583.6 726.1C584.8 727.3 587.4 733.5 587.3 734.8C587.2 736.2 583.6 739.4 582.3 739.8C581.1 740.2 576.1 739.9 574.8 738.6C573.6 737.2 569.8 727.7 569.8 726.1Z" style="stroke-width:1.2"/>
<ellipse class="s" cx="591.8" cy="741.8" rx="4" ry="7.6" style="stroke-width:1.6" transform="rotate(25 591.8 741.8)"/>
<ellipse class="n" cx="589.3" cy="740.8" rx="3.2" ry="7" transform="rotate(25 589.3 740.8)"/>
<path class="s" d="M590.3 754.8L597.3 753.6L607.3 757.3L604.8 763.5L597.3 767.3L592.3 761.0Z" style="stroke-width:1.5"/>
<path class="n" d="M596.1 758.6L601.0 758.6L598.6 763.5Z"/>
<path class="s" d="M607.3 752.3C607.8 753.3 615.5 756.6 617.3 757.3C619.0 758.1 624.3 760.5 624.8 759.8C625.3 759.1 623.5 751.1 622.3 749.8C621.0 748.6 613.8 747.1 612.3 747.3C610.8 747.6 606.8 751.3 607.3 752.3Z" style="stroke-width:1.2"/>
<path class="d" d="M628.5 732.3L633.5 731.1L647.3 743.6L643.5 747.3Z"/>
<path class="d" d="M628.5 757.3L637.3 759.8L636.0 762.8L627.8 761.0Z"/>
<path class="n" d="M633.5 731.1L639.8 728.6L649.8 743.6L647.3 746.1" style="stroke-width:1.3"/>
<path class="n" d="M539.3 778.5L545.1 789.5" style="stroke-width:1.3"/>
<path class="n" d="M542.1 777.0L547.9 788.0" style="stroke-width:1.3"/>
<circle class="d" cx="546.5" cy="788.7" r="1.6"/>
<path class="n" d="M519.3 790.5L525.1 801.5" style="stroke-width:1.3"/>
<path class="n" d="M522.1 789.0L527.9 800.0" style="stroke-width:1.3"/>
<circle class="d" cx="526.5" cy="800.7" r="1.6"/>
<rect x="505.0" y="838.2" width="13.8" height="8.3" rx="1.6" fill="#fff" stroke="#111" stroke-width="1.7" transform="rotate(10.0 511.9 842.4)"/>
<rect x="505.6" y="838.8" width="4.7" height="7.1" fill="#222" transform="rotate(10.0 511.9 842.4)"/>
<path d="M510.5 840.9h7.2M510.5 844.0h7.2" stroke="#222" stroke-width="1.5" fill="none" transform="rotate(10.0 511.9 842.4)"/>
<path d="M515.0 838.2v8.3" stroke="#222" stroke-width="1.3" fill="none" transform="rotate(10.0 511.9 842.4)"/>
<path class="n" d="M712.5 810.0L697.8 822.3" style="stroke-width:1.3"/>
<path class="n" d="M714.6 812.5L699.9 824.8" style="stroke-width:1.3"/>
<circle class="d" cx="698.8" cy="823.6" r="1.6"/>
<path class="n" d="M719.6 876.5L708.6 892.3" style="stroke-width:1.3"/>
<path class="n" d="M722.3 878.4L711.2 894.1" style="stroke-width:1.3"/>
<circle class="d" cx="709.9" cy="893.2" r="1.6"/>
<path class="n" d="M804.6 921.7L798.1 939.8" style="stroke-width:1.3"/>
<path class="n" d="M807.6 922.8L801.1 940.9" style="stroke-width:1.3"/>
<circle class="d" cx="799.6" cy="940.3" r="1.6"/>
<path class="n" d="M819.8 937.3L819.8 924.8L822.8 924.3L822.8 937.8"/>
<g class="ld">
<line x1="881.9" y1="26.2" x2="901.1" y2="42.5"/>
<line x1="405" y1="391.2" x2="413.7" y2="417.4"/>
<line x1="440" y1="385" x2="421.2" y2="423.7"/>
<line x1="479.9" y1="411.2" x2="418.7" y2="458.6"/>
<line x1="501.1" y1="446.1" x2="450" y2="473.6"/>
<line x1="493.7" y1="516.1" x2="416.2" y2="503.6"/>
<line x1="559.8" y1="524.8" x2="553.6" y2="556"/>
<line x1="634.8" y1="449.9" x2="648.5" y2="476.1"/>
<line x1="697.9" y1="383.7" x2="707.9" y2="409.9"/>
<line x1="706.9" y1="474.9" x2="718.7" y2="491.1"/>
<line x1="672.5" y1="533.6" x2="683.7" y2="552.3"/>
<line x1="867.4" y1="261.2" x2="893.6" y2="302.4"/>
<line x1="954.1" y1="222.5" x2="957.8" y2="248.7"/>
<line x1="802" y1="324.9" x2="864.9" y2="324.9"/>
<line x1="987.3" y1="358.6" x2="919.9" y2="296.1"/>
<line x1="958.6" y1="389.8" x2="904.9" y2="307.4"/>
<line x1="191.2" y1="232" x2="199.9" y2="255.4"/>
<line x1="512.3" y1="228" x2="526.7" y2="279.4"/>
<line x1="197.2" y1="412.3" x2="192.2" y2="429.7"/>
<line x1="166.9" y1="451.7" x2="196.2" y2="436.5"/>
<line x1="249.1" y1="430.5" x2="232.6" y2="443.5"/>
<line x1="203.7" y1="450.5" x2="200.4" y2="475"/>
<line x1="419.8" y1="614.9" x2="447.3" y2="599.9"/>
<line x1="494.9" y1="709.9" x2="516.1" y2="699.4"/>
<line x1="571.4" y1="639.2" x2="560.7" y2="622.1"/>
<line x1="571.4" y1="639.2" x2="574.9" y2="614.9"/>
<line x1="693" y1="662.3" x2="706.1" y2="672.7"/>
<line x1="523.7" y1="806.2" x2="546.1" y2="831.9"/>
<line x1="780" y1="777" x2="796.4" y2="777"/>
<line x1="821.4" y1="776.3" x2="832.8" y2="775.6"/>
<line x1="849.2" y1="730.6" x2="869.2" y2="764.2"/>
<line x1="909.9" y1="701.2" x2="893.8" y2="723.5"/>
<line x1="945" y1="718.5" x2="920" y2="738.3"/>
<line x1="922.8" y1="785.4" x2="917.1" y2="785.6"/>
<line x1="830" y1="790.7" x2="837.1" y2="790"/>
<line x1="814.3" y1="821.4" x2="835.7" y2="795"/>
<line x1="849.2" y1="857" x2="855" y2="845.6"/>
</g>
<g class="l" style="opacity:.999">
<text transform="translate(859.068,22) scale(1,1)">4</text>
<text transform="translate(177.22,222) scale(1,1)">1</text>
<text transform="translate(500.031,218.2) scale(1,1)">6</text>
<text transform="translate(945.131,211) scale(1,1)">8</text>
<text transform="translate(850.129,253.5) scale(1,1)">9</text>
<text transform="translate(768.02,334.2) scale(1,1)">10</text>
<text transform="translate(990.721,381.8) scale(1,1)">12</text>
<text transform="translate(957.52,416.8) scale(1,1)">11</text>
<text transform="translate(383.535,381.1) scale(1,1)">22</text>
<text transform="translate(434.235,375) scale(1,1)">20</text>
<text transform="translate(483.421,406.9) scale(1,1)">18</text>
<text transform="translate(505.821,444.9) scale(1,1)">19</text>
<text transform="translate(187.935,402.3) scale(1,1)">29</text>
<text transform="translate(250.029,425.8) scale(1,1)">30</text>
<text transform="translate(134.029,470.6) scale(1,1)">31</text>
<text transform="translate(183.735,505) scale(1,1)">28</text>
<text transform="translate(498.635,527.8) scale(1,1)">21</text>
<text transform="translate(676.735,373) scale(1,1)">22</text>
<text transform="translate(612.52,439.4) scale(1,1)">14</text>
<text transform="translate(719.12,516.1) scale(1,1)">15</text>
<text transform="translate(550.335,512.8) scale(1,1)">23</text>
<text transform="translate(681.721,578.8) scale(1,1)">17</text>
<text transform="translate(396.535,636.2) scale(1,1)">2</text>
<text transform="translate(559.035,668.6) scale(1,1)">24</text>
<text transform="translate(664.421,658.6) scale(1,1)">17</text>
<text transform="translate(470.629,727.8) scale(1,1)">3</text>
<text transform="translate(914.902,694.9) scale(1,1)">7</text>
<text transform="translate(824.135,723.5) scale(1,1)">26</text>
<text transform="translate(946.135,715.8) scale(1,1)">27</text>
<text transform="translate(745.435,787.4) scale(1,1)">25</text>
<text transform="translate(928.129,787.6) scale(1,1)">32</text>
<text transform="translate(795.829,801.2) scale(1,1)">33</text>
<text transform="translate(787.12,844.9) scale(1,1)">13</text>
<text transform="translate(827.52,883.6) scale(1,1)">16</text>
<text transform="translate(552.707,856.1) scale(1,1)">5</text>
<text transform="translate(142,759.5) scale(1.028,1)" style="font-size:21.5px;letter-spacing:0">© 2015 Polaris Industries Inc.</text><text transform="translate(1069.6,761.8) scale(1,1)" style="font-size:22.4px;letter-spacing:0.4px">7005</text>
</g>
<rect x="1111.4" y="738" width="10" height="30" fill="#fff"/>
<g opacity="0.247"><text transform="translate(103,895.3) rotate(-36.6) scale(1.235,1)" font-size="83" font-weight="bold" style="font-kerning:none" fill="#000" stroke="#000" stroke-width="2.2" stroke-linejoin="miter" dx="0 2.2 1.1 -2.9 0 -2.5 -4 0 0 0 0.25 0.25 0.25 0.25 0.25 0.25 0.25 0.25 0.25 0.25 0.25 0.25 0 0 0">www.polarisersatzteile.de</text></g>
</svg></body></html>
